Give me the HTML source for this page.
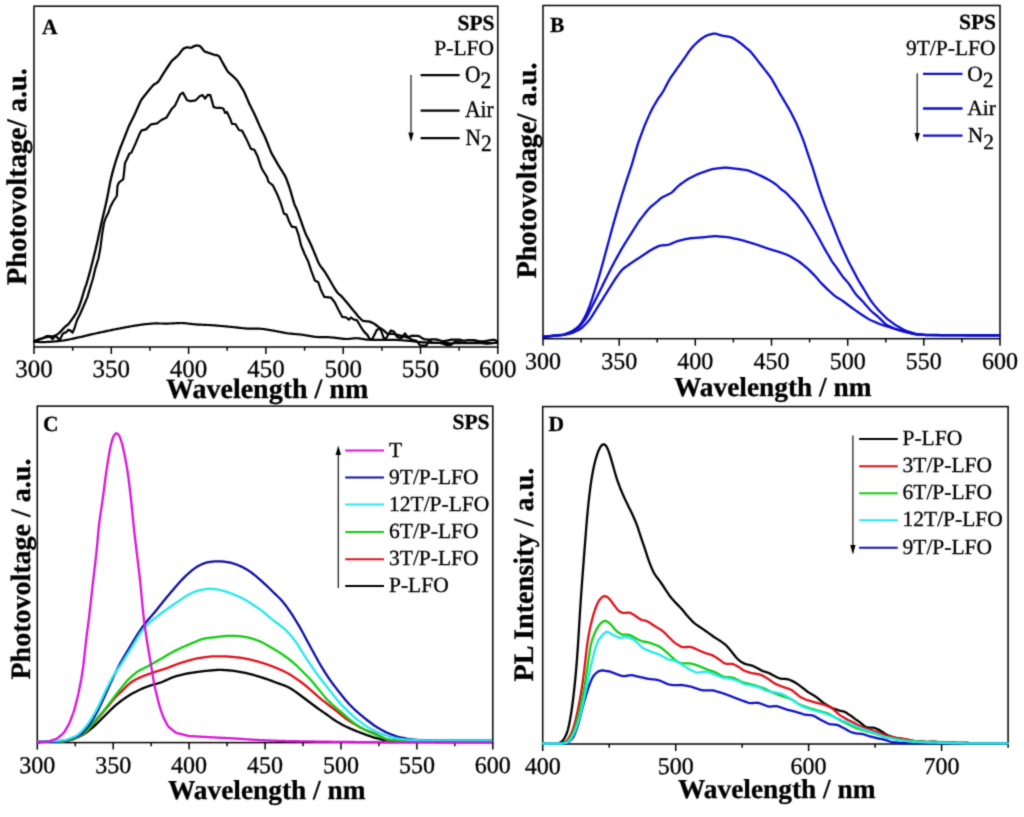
<!DOCTYPE html>
<html><head><meta charset="utf-8"><style>
html,body{margin:0;padding:0;background:#fff;}
svg{display:block;font-family:"Liberation Serif",serif;text-rendering:geometricPrecision;}
text{fill:#000;stroke:#000;stroke-width:0.3px;}
</style></head><body>
<svg width="1024" height="817" viewBox="0 0 1024 817">
<defs><filter id="soft" x="0" y="0" width="1024" height="817" filterUnits="userSpaceOnUse" color-interpolation-filters="sRGB"><feConvolveMatrix order="3" kernelMatrix="0.03 0.1 0.03 0.1 0.48 0.1 0.03 0.1 0.03" divisor="1" edgeMode="duplicate"/></filter></defs>
<rect width="1024" height="817" fill="#fff"/>
<g filter="url(#soft)">
<rect width="1024" height="817" fill="#fff"/>
<rect x="34" y="6.2" width="463.8" height="340.8" fill="none" stroke="#000" stroke-width="1.5"/>
<line x1="34.0" y1="347" x2="34.0" y2="354" stroke="#000" stroke-width="1.5"/>
<text x="34.0" y="377.3" font-size="25" text-anchor="middle" >300</text>
<line x1="72.7" y1="347" x2="72.7" y2="350.7" stroke="#000" stroke-width="1.5"/>
<line x1="111.3" y1="347" x2="111.3" y2="354" stroke="#000" stroke-width="1.5"/>
<text x="111.3" y="377.3" font-size="25" text-anchor="middle" >350</text>
<line x1="149.9" y1="347" x2="149.9" y2="350.7" stroke="#000" stroke-width="1.5"/>
<line x1="188.6" y1="347" x2="188.6" y2="354" stroke="#000" stroke-width="1.5"/>
<text x="188.6" y="377.3" font-size="25" text-anchor="middle" >400</text>
<line x1="227.2" y1="347" x2="227.2" y2="350.7" stroke="#000" stroke-width="1.5"/>
<line x1="265.9" y1="347" x2="265.9" y2="354" stroke="#000" stroke-width="1.5"/>
<text x="265.9" y="377.3" font-size="25" text-anchor="middle" >450</text>
<line x1="304.6" y1="347" x2="304.6" y2="350.7" stroke="#000" stroke-width="1.5"/>
<line x1="343.2" y1="347" x2="343.2" y2="354" stroke="#000" stroke-width="1.5"/>
<text x="343.2" y="377.3" font-size="25" text-anchor="middle" >500</text>
<line x1="381.9" y1="347" x2="381.9" y2="350.7" stroke="#000" stroke-width="1.5"/>
<line x1="420.5" y1="347" x2="420.5" y2="354" stroke="#000" stroke-width="1.5"/>
<text x="420.5" y="377.3" font-size="25" text-anchor="middle" >550</text>
<line x1="459.1" y1="347" x2="459.1" y2="350.7" stroke="#000" stroke-width="1.5"/>
<line x1="497.8" y1="347" x2="497.8" y2="354" stroke="#000" stroke-width="1.5"/>
<text x="497.8" y="377.3" font-size="25" text-anchor="middle" >600</text>
<text x="166" y="397.5" font-size="28" font-weight="bold" text-anchor="start" >Wavelength / nm</text>
<text transform="translate(25.5,285) rotate(-90)" font-size="28.4" font-weight="bold">Photovoltage/ a.u.</text>
<text x="42" y="33.5" font-size="21.5" font-weight="bold" text-anchor="start" >A</text>
<text x="494.5" y="30" font-size="21.5" font-weight="bold" text-anchor="end" >SPS</text>
<text x="494" y="55" font-size="21.5" text-anchor="end" >P-LFO</text>
<line x1="420.6" y1="75.2" x2="459.6" y2="75.2" stroke="#000" stroke-width="2.2"/>
<line x1="420.6" y1="110.6" x2="459.6" y2="110.6" stroke="#000" stroke-width="2.2"/>
<line x1="420.6" y1="138.1" x2="459.6" y2="138.1" stroke="#000" stroke-width="2.2"/>
<text transform="translate(465,81.6) scale(1,1.09)" font-size="21.5">O<tspan dy="5.96">2</tspan></text>
<text transform="translate(465,116.9) scale(1,1.09)" font-size="21.5">Air</text>
<text transform="translate(465.5,144.5) scale(1,1.09)" font-size="21.5">N<tspan dy="5.96">2</tspan></text>
<line x1="411" y1="75" x2="411" y2="132.5" stroke="#111" stroke-width="1.2"/><path d="M408.3,132.5 L413.7,132.5 L411,142 Z" fill="#000"/>
<path d="M34.3,341.10 L35.3,340.74 L36.3,340.29 L37.3,339.85 L38.3,339.46 L39.3,339.14 L40.3,338.83 L41.3,338.53 L42.3,338.23 L43.3,337.95 L44.3,337.67 L45.3,337.41 L46.3,337.22 L47.3,337.09 L48.3,336.97 L49.3,336.85 L50.3,336.75 L51.3,336.64 L52.3,336.50 L53.3,336.22 L54.3,335.84 L55.3,335.43 L56.3,334.97 L57.3,334.36 L58.3,333.64 L59.3,332.84 L60.3,331.89 L61.3,330.79 L62.3,329.68 L63.3,328.60 L64.3,327.55 L65.3,326.56 L66.3,325.71 L67.3,325.02 L68.3,324.23 L69.3,323.01 L70.3,321.63 L71.3,320.24 L72.3,318.85 L73.3,317.46 L74.3,316.03 L75.3,314.48 L76.3,312.80 L77.3,310.84 L78.3,308.53 L79.3,306.00 L80.3,303.18 L81.3,300.18 L82.3,296.92 L83.3,293.49 L84.3,290.16 L85.3,287.24 L86.3,284.33 L87.3,281.04 L88.3,277.57 L89.3,274.06 L90.3,270.42 L91.3,266.53 L92.3,262.56 L93.3,258.57 L94.3,254.55 L95.3,250.48 L96.3,246.32 L97.3,241.89 L98.3,237.31 L99.3,232.71 L100.3,228.13 L101.3,223.58 L102.3,219.16 L103.3,214.97 L104.3,210.80 L105.3,206.46 L106.3,201.93 L107.3,197.23 L108.3,192.12 L109.3,186.76 L110.3,181.63 L111.3,177.35 L112.3,173.40 L113.3,169.62 L114.3,166.12 L115.3,162.75 L116.3,159.56 L117.3,156.54 L118.3,153.57 L119.3,150.68 L120.3,148.00 L121.3,145.45 L122.3,142.91 L123.3,140.37 L124.3,137.81 L125.3,135.24 L126.3,132.67 L127.3,130.11 L128.3,127.59 L129.3,125.28 L130.3,123.20 L131.3,121.20 L132.3,119.20 L133.3,117.20 L134.3,115.17 L135.3,113.05 L136.3,110.80 L137.3,108.52 L138.3,106.24 L139.3,103.96 L140.3,101.77 L141.3,99.94 L142.3,98.54 L143.3,97.26 L144.3,96.00 L145.3,94.74 L146.3,93.47 L147.3,92.21 L148.3,90.99 L149.3,89.78 L150.3,88.58 L151.3,87.38 L152.3,86.18 L153.3,85.08 L154.3,84.26 L155.3,83.68 L156.3,83.17 L157.3,82.58 L158.3,81.63 L159.3,80.18 L160.3,78.57 L161.3,76.94 L162.3,75.32 L163.3,73.70 L164.3,72.09 L165.3,70.52 L166.3,69.00 L167.3,67.50 L168.3,66.00 L169.3,64.50 L170.3,63.00 L171.3,61.59 L172.3,60.44 L173.3,59.51 L174.3,58.64 L175.3,57.77 L176.3,56.90 L177.3,56.03 L178.3,55.08 L179.3,53.88 L180.3,52.53 L181.3,51.14 L182.3,49.83 L183.3,48.86 L184.3,48.31 L185.3,47.87 L186.3,47.48 L187.3,47.28 L188.3,47.41 L189.3,47.66 L190.3,47.80 L191.3,47.59 L192.3,47.13 L193.3,46.62 L194.3,46.12 L195.3,45.69 L196.3,45.51 L197.3,45.55 L198.3,45.65 L199.3,45.82 L200.3,46.38 L201.3,47.50 L202.3,48.80 L203.3,50.09 L204.3,51.18 L205.3,51.72 L206.3,52.07 L207.3,52.40 L208.3,52.73 L209.3,53.07 L210.3,53.41 L211.3,53.76 L212.3,54.10 L213.3,54.45 L214.3,54.77 L215.3,55.02 L216.3,55.22 L217.3,55.41 L218.3,55.75 L219.3,56.68 L220.3,58.31 L221.3,60.17 L222.3,62.02 L223.3,63.86 L224.3,65.65 L225.3,67.43 L226.3,69.21 L227.3,70.86 L228.3,72.13 L229.3,73.08 L230.3,73.95 L231.3,74.82 L232.3,75.69 L233.3,76.57 L234.3,77.51 L235.3,78.50 L236.3,79.53 L237.3,80.73 L238.3,82.24 L239.3,83.84 L240.3,85.45 L241.3,87.06 L242.3,88.67 L243.3,90.33 L244.3,92.23 L245.3,94.46 L246.3,96.81 L247.3,99.16 L248.3,101.50 L249.3,103.73 L250.3,105.77 L251.3,107.76 L252.3,109.74 L253.3,111.72 L254.3,113.77 L255.3,115.99 L256.3,118.27 L257.3,120.55 L258.3,122.83 L259.3,125.11 L260.3,127.34 L261.3,129.40 L262.3,131.40 L263.3,133.40 L264.3,135.48 L265.3,137.80 L266.3,140.28 L267.3,142.79 L268.3,145.30 L269.3,147.82 L270.3,150.33 L271.3,152.69 L272.3,154.64 L273.3,156.40 L274.3,158.14 L275.3,159.88 L276.3,161.62 L277.3,163.36 L278.3,165.06 L279.3,166.68 L280.3,168.26 L281.3,169.85 L282.3,171.44 L283.3,173.05 L284.3,174.66 L285.3,176.42 L286.3,178.69 L287.3,181.37 L288.3,184.16 L289.3,187.01 L290.3,190.10 L291.3,193.56 L292.3,197.14 L293.3,200.70 L294.3,203.94 L295.3,206.25 L296.3,208.31 L297.3,210.67 L298.3,213.41 L299.3,216.26 L300.3,219.11 L301.3,221.95 L302.3,224.75 L303.3,227.54 L304.3,230.32 L305.3,232.96 L306.3,235.16 L307.3,237.16 L308.3,239.14 L309.3,241.13 L310.3,243.17 L311.3,245.41 L312.3,247.77 L313.3,250.17 L314.3,252.57 L315.3,254.99 L316.3,257.43 L317.3,259.88 L318.3,262.28 L319.3,264.35 L320.3,265.86 L321.3,267.18 L322.3,268.48 L323.3,269.80 L324.3,271.17 L325.3,272.71 L326.3,274.31 L327.3,275.92 L328.3,277.54 L329.3,279.24 L330.3,280.99 L331.3,282.75 L332.3,284.51 L333.3,286.24 L334.3,287.88 L335.3,289.46 L336.3,291.02 L337.3,292.45 L338.3,293.53 L339.3,294.40 L340.3,295.24 L341.3,296.12 L342.3,297.15 L343.3,298.30 L344.3,299.48 L345.3,300.67 L346.3,301.86 L347.3,303.05 L348.3,304.26 L349.3,305.48 L350.3,306.71 L351.3,307.93 L352.3,309.15 L353.3,310.38 L354.3,311.61 L355.3,312.84 L356.3,314.08 L357.3,315.30 L358.3,316.46 L359.3,317.50 L360.3,318.50 L361.3,319.50 L362.3,320.39 L363.3,320.94 L364.3,321.12 L365.3,321.21 L366.3,321.30 L367.3,321.39 L368.3,321.47 L369.3,321.60 L370.3,321.89 L371.3,322.34 L372.3,322.82 L373.3,323.31 L374.3,323.85 L375.3,324.53 L376.3,325.28 L377.3,326.04 L378.3,326.81 L379.3,327.53 L380.3,328.18 L381.3,328.80 L382.3,329.41 L383.3,330.07 L384.3,330.85 L385.3,331.80 L386.3,332.79 L387.3,333.60 L388.3,333.87 L389.3,333.90 L390.3,333.90 L391.3,333.90 L392.3,333.90 L393.3,333.96 L394.3,334.16 L395.3,334.41 L396.3,334.67 L397.3,334.92 L398.3,335.18 L399.3,335.43 L400.3,335.69 L401.3,335.94 L402.3,336.20 L403.3,336.44 L404.3,336.68 L405.3,336.92 L406.3,337.16 L407.3,337.26 L408.3,337.03 L409.3,336.68 L410.3,336.32 L411.3,335.98 L412.3,335.78 L413.3,335.76 L414.3,335.80 L415.3,335.84 L416.3,335.88 L417.3,335.93 L418.3,336.00 L419.3,336.27 L420.3,336.88 L421.3,337.59 L422.3,338.29 L423.3,338.83 L424.3,339.10 L425.3,339.27 L426.3,339.44 L427.3,339.59 L428.3,339.65 L429.3,339.62 L430.3,339.57 L431.3,339.52 L432.3,339.47 L433.3,339.42 L434.3,339.37 L435.3,339.36 L436.3,339.50 L437.3,339.74 L438.3,339.99 L439.3,340.25 L440.3,340.51 L441.3,340.76 L442.3,341.01 L443.3,341.18 L444.3,341.10 L445.3,340.91 L446.3,340.71 L447.3,340.51 L448.3,340.31 L449.3,340.11 L450.3,339.90 L451.3,339.74 L452.3,339.68 L453.3,339.65 L454.3,339.62 L455.3,339.60 L456.3,339.57 L457.3,339.55 L458.3,339.54 L459.3,339.64 L460.3,339.88 L461.3,340.17 L462.3,340.46 L463.3,340.69 L464.3,340.71 L465.3,340.51 L466.3,340.28 L467.3,340.14 L468.3,340.10 L469.3,340.10 L470.3,340.10 L471.3,340.10 L472.3,340.10 L473.3,340.10 L474.3,340.14 L475.3,340.28 L476.3,340.51 L477.3,340.76 L478.3,341.02 L479.3,341.22 L480.3,341.29 L481.3,341.30 L482.3,341.30 L483.3,341.30 L484.3,341.27 L485.3,341.17 L486.3,340.97 L487.3,340.75 L488.3,340.54 L489.3,340.32 L490.3,340.13 L491.3,340.02 L492.3,339.93 L493.3,339.85 L494.3,339.83 L495.3,340.09 L496.3,340.77 L497.3,341.41" fill="none" stroke="#000" stroke-width="2.3" stroke-linejoin="round" stroke-linecap="round" />
<path d="M34.3,341.6 L37.8,340.0 L41.7,338.8 L45.6,336.9 L46.4,336.1 L50.3,336.1 L51.1,337.7 L52.7,339.2 L54.2,336.9 L56.2,336.5 L58.1,338.4 L59.7,340.0 L62.8,333.8 L64.4,332.6 L65.9,332.6 L68.3,329.8 L70.6,330.6 L72.6,332.6 L74.5,328.3 L76.9,320.5 L80.0,314.2 L83.1,307.2 L87.4,297.1 L90.1,287.9 L92.9,278.7 L95.6,267.6 L98.4,258.5 L100.2,249.3 L102.1,234.6 L103.9,223.5 L105.7,218.0 L108.5,212.5 L110.3,207.0 L113.1,201.5 L116.8,196.0 L117.5,186.0 L118.6,183.1 L120.4,181.3 L123.2,179.4 L124.1,172.1 L125.0,162.9 L126.9,159.2 L129.3,153.7 L131.4,152.6 L135.7,143.1 L140.0,132.9 L141.7,130.3 L146.0,129.4 L151.1,124.3 L157.1,123.4 L161.4,120.0 L166.6,117.4 L171.7,108.9 L175.1,105.4 L180.3,94.3 L182.9,92.6 L187.1,100.3 L190.6,101.1 L195.7,100.3 L200.0,96.0 L202.6,95.1 L205.1,98.6 L207.7,94.8 L210.3,95.1 L213.7,107.1 L217.1,108.0 L220.0,107.7 L223.4,108.6 L225.1,112.9 L226.9,112.0 L230.3,118.9 L232.0,124.0 L235.4,124.0 L238.9,130.0 L242.3,130.9 L246.6,139.4 L250.9,148.9 L254.3,149.7 L257.7,156.6 L261.1,166.9 L262.6,170.0 L266.9,176.9 L268.6,182.0 L272.9,185.4 L277.1,194.0 L280.6,202.6 L284.0,213.7 L286.6,214.6 L289.1,221.4 L291.7,226.6 L296.0,227.4 L298.6,235.1 L301.1,245.4 L304.6,254.0 L308.0,260.9 L311.4,271.1 L314.9,280.6 L318.3,282.3 L320.9,290.0 L324.3,296.9 L331.1,297.7 L334.7,302.3 L338.2,309.3 L342.3,316.9 L346.4,317.5 L348.8,319.8 L351.1,317.5 L353.4,319.3 L357.0,320.4 L360.5,326.3 L364.0,331.6 L367.5,335.1 L369.8,339.2 L372.2,339.2 L376.9,329.8 L380.4,328.6 L383.9,338.6 L386.3,338.0 L390.9,330.4 L393.9,331.6 L397.4,337.4 L401.5,338.0 L405.0,333.3 L407.9,337.4 L412.0,339.8 L416.7,340.9 L420.2,345.6 L426.1,345.6 L429.6,340.4 L431.7,342.8 L439.5,342.8 L445.8,344.8 L451.3,344.8 L455.2,341.3 L463.0,342.8 L470.8,342.8 L478.6,342.4 L486.4,343.6 L494.2,342.8 L497.3,342.8" fill="none" stroke="#000" stroke-width="2.2" stroke-linejoin="round" stroke-linecap="round" />
<path d="M34.3,341.67 L35.3,341.73 L36.3,341.80 L37.3,341.89 L38.3,341.97 L39.3,342.06 L40.3,342.12 L41.3,342.17 L42.3,342.18 L43.3,342.17 L44.3,342.13 L45.3,342.08 L46.3,342.02 L47.3,341.96 L48.3,341.90 L49.3,341.84 L50.3,341.78 L51.3,341.72 L52.3,341.65 L53.3,341.58 L54.3,341.49 L55.3,341.40 L56.3,341.30 L57.3,341.20 L58.3,341.10 L59.3,340.99 L60.3,340.88 L61.3,340.76 L62.3,340.63 L63.3,340.48 L64.3,340.34 L65.3,340.18 L66.3,340.02 L67.3,339.86 L68.3,339.68 L69.3,339.49 L70.3,339.28 L71.3,339.05 L72.3,338.82 L73.3,338.58 L74.3,338.34 L75.3,338.10 L76.3,337.87 L77.3,337.64 L78.3,337.42 L79.3,337.21 L80.3,337.00 L81.3,336.80 L82.3,336.59 L83.3,336.37 L84.3,336.15 L85.3,335.92 L86.3,335.68 L87.3,335.43 L88.3,335.18 L89.3,334.92 L90.3,334.67 L91.3,334.42 L92.3,334.18 L93.3,333.95 L94.3,333.72 L95.3,333.51 L96.3,333.29 L97.3,333.08 L98.3,332.86 L99.3,332.65 L100.3,332.44 L101.3,332.22 L102.3,332.01 L103.3,331.80 L104.3,331.59 L105.3,331.37 L106.3,331.16 L107.3,330.95 L108.3,330.73 L109.3,330.52 L110.3,330.31 L111.3,330.10 L112.3,329.89 L113.3,329.68 L114.3,329.48 L115.3,329.28 L116.3,329.09 L117.3,328.90 L118.3,328.71 L119.3,328.52 L120.3,328.33 L121.3,328.14 L122.3,327.95 L123.3,327.76 L124.3,327.57 L125.3,327.38 L126.3,327.19 L127.3,327.01 L128.3,326.82 L129.3,326.64 L130.3,326.46 L131.3,326.28 L132.3,326.11 L133.3,325.95 L134.3,325.78 L135.3,325.62 L136.3,325.46 L137.3,325.30 L138.3,325.13 L139.3,324.98 L140.3,324.82 L141.3,324.67 L142.3,324.54 L143.3,324.42 L144.3,324.31 L145.3,324.21 L146.3,324.12 L147.3,324.02 L148.3,323.93 L149.3,323.83 L150.3,323.74 L151.3,323.65 L152.3,323.58 L153.3,323.51 L154.3,323.47 L155.3,323.45 L156.3,323.45 L157.3,323.45 L158.3,323.46 L159.3,323.48 L160.3,323.49 L161.3,323.50 L162.3,323.52 L163.3,323.53 L164.3,323.55 L165.3,323.56 L166.3,323.56 L167.3,323.56 L168.3,323.54 L169.3,323.51 L170.3,323.48 L171.3,323.43 L172.3,323.38 L173.3,323.33 L174.3,323.28 L175.3,323.24 L176.3,323.19 L177.3,323.14 L178.3,323.09 L179.3,323.05 L180.3,323.02 L181.3,323.02 L182.3,323.04 L183.3,323.10 L184.3,323.18 L185.3,323.28 L186.3,323.39 L187.3,323.50 L188.3,323.61 L189.3,323.73 L190.3,323.84 L191.3,323.95 L192.3,324.07 L193.3,324.18 L194.3,324.28 L195.3,324.38 L196.3,324.46 L197.3,324.53 L198.3,324.58 L199.3,324.63 L200.3,324.68 L201.3,324.72 L202.3,324.76 L203.3,324.81 L204.3,324.85 L205.3,324.89 L206.3,324.94 L207.3,324.98 L208.3,325.02 L209.3,325.07 L210.3,325.11 L211.3,325.16 L212.3,325.23 L213.3,325.29 L214.3,325.37 L215.3,325.46 L216.3,325.55 L217.3,325.64 L218.3,325.73 L219.3,325.82 L220.3,325.91 L221.3,326.00 L222.3,326.09 L223.3,326.18 L224.3,326.27 L225.3,326.36 L226.3,326.45 L227.3,326.55 L228.3,326.64 L229.3,326.73 L230.3,326.83 L231.3,326.92 L232.3,327.03 L233.3,327.13 L234.3,327.24 L235.3,327.35 L236.3,327.46 L237.3,327.57 L238.3,327.68 L239.3,327.79 L240.3,327.90 L241.3,328.01 L242.3,328.12 L243.3,328.23 L244.3,328.33 L245.3,328.43 L246.3,328.52 L247.3,328.59 L248.3,328.65 L249.3,328.68 L250.3,328.69 L251.3,328.70 L252.3,328.70 L253.3,328.70 L254.3,328.70 L255.3,328.70 L256.3,328.70 L257.3,328.70 L258.3,328.71 L259.3,328.72 L260.3,328.75 L261.3,328.81 L262.3,328.89 L263.3,329.01 L264.3,329.16 L265.3,329.32 L266.3,329.48 L267.3,329.65 L268.3,329.82 L269.3,329.99 L270.3,330.16 L271.3,330.33 L272.3,330.51 L273.3,330.68 L274.3,330.85 L275.3,331.03 L276.3,331.21 L277.3,331.40 L278.3,331.59 L279.3,331.79 L280.3,331.98 L281.3,332.18 L282.3,332.38 L283.3,332.57 L284.3,332.77 L285.3,332.95 L286.3,333.13 L287.3,333.28 L288.3,333.42 L289.3,333.53 L290.3,333.63 L291.3,333.72 L292.3,333.81 L293.3,333.90 L294.3,333.98 L295.3,334.07 L296.3,334.15 L297.3,334.24 L298.3,334.33 L299.3,334.42 L300.3,334.53 L301.3,334.64 L302.3,334.78 L303.3,334.92 L304.3,335.08 L305.3,335.25 L306.3,335.42 L307.3,335.59 L308.3,335.76 L309.3,335.93 L310.3,336.10 L311.3,336.27 L312.3,336.43 L313.3,336.59 L314.3,336.73 L315.3,336.85 L316.3,336.93 L317.3,336.99 L318.3,337.03 L319.3,337.05 L320.3,337.07 L321.3,337.08 L322.3,337.10 L323.3,337.11 L324.3,337.12 L325.3,337.14 L326.3,337.16 L327.3,337.18 L328.3,337.21 L329.3,337.25 L330.3,337.32 L331.3,337.40 L332.3,337.49 L333.3,337.60 L334.3,337.71 L335.3,337.82 L336.3,337.93 L337.3,338.05 L338.3,338.17 L339.3,338.30 L340.3,338.42 L341.3,338.55 L342.3,338.67 L343.3,338.79 L344.3,338.90 L345.3,338.97 L346.3,339.01 L347.3,339.00 L348.3,338.94 L349.3,338.86 L350.3,338.75 L351.3,338.64 L352.3,338.53 L353.3,338.43 L354.3,338.33 L355.3,338.26 L356.3,338.22 L357.3,338.24 L358.3,338.31 L359.3,338.43 L360.3,338.58 L361.3,338.74 L362.3,338.91 L363.3,339.08 L364.3,339.24 L365.3,339.40 L366.3,339.54 L367.3,339.65 L368.3,339.72 L369.3,339.77 L370.3,339.79 L371.3,339.80 L372.3,339.80 L373.3,339.80 L374.3,339.80 L375.3,339.80 L376.3,339.80 L377.3,339.80 L378.3,339.80 L379.3,339.80 L380.3,339.80 L381.3,339.80 L382.3,339.81 L383.3,339.81 L384.3,339.82 L385.3,339.84 L386.3,339.85 L387.3,339.86 L388.3,339.87 L389.3,339.89 L390.3,339.90 L391.3,339.91 L392.3,339.93 L393.3,339.94 L394.3,339.95 L395.3,339.97 L396.3,339.99 L397.3,340.02 L398.3,340.07 L399.3,340.12 L400.3,340.18 L401.3,340.26 L402.3,340.33 L403.3,340.41 L404.3,340.48 L405.3,340.56 L406.3,340.64 L407.3,340.72 L408.3,340.81 L409.3,340.90 L410.3,341.00 L411.3,341.12 L412.3,341.24 L413.3,341.36 L414.3,341.49 L415.3,341.61 L416.3,341.74 L417.3,341.86 L418.3,341.97 L419.3,342.06 L420.3,342.14 L421.3,342.22 L422.3,342.28 L423.3,342.34 L424.3,342.40 L425.3,342.45 L426.3,342.51 L427.3,342.57 L428.3,342.62 L429.3,342.66 L430.3,342.71 L431.3,342.74 L432.3,342.78 L433.3,342.81 L434.3,342.84 L435.3,342.87 L436.3,342.90 L437.3,342.93 L438.3,342.96 L439.3,342.99 L440.3,343.01 L441.3,343.04 L442.3,343.07 L443.3,343.10 L444.3,343.13 L445.3,343.16 L446.3,343.19 L447.3,343.22 L448.3,343.24 L449.3,343.26 L450.3,343.27 L451.3,343.28 L452.3,343.28 L453.3,343.28 L454.3,343.27 L455.3,343.27 L456.3,343.26 L457.3,343.25 L458.3,343.25 L459.3,343.24 L460.3,343.23 L461.3,343.23 L462.3,343.22 L463.3,343.22 L464.3,343.21 L465.3,343.20 L466.3,343.20 L467.3,343.19 L468.3,343.18 L469.3,343.18 L470.3,343.17 L471.3,343.16 L472.3,343.16 L473.3,343.15 L474.3,343.14 L475.3,343.14 L476.3,343.13 L477.3,343.13 L478.3,343.12 L479.3,343.11 L480.3,343.11 L481.3,343.10 L482.3,343.09 L483.3,343.09 L484.3,343.08 L485.3,343.07 L486.3,343.07 L487.3,343.06 L488.3,343.06 L489.3,343.05 L490.3,343.04 L491.3,343.04 L492.3,343.03 L493.3,343.02 L494.3,343.02 L495.3,343.01 L496.3,343.01" fill="none" stroke="#000" stroke-width="2.2" stroke-linejoin="round" stroke-linecap="round" />
<rect x="543" y="5.5" width="457" height="333.2" fill="none" stroke="#000" stroke-width="1.5"/>
<line x1="543.0" y1="338.7" x2="543.0" y2="345.7" stroke="#000" stroke-width="1.5"/>
<text x="543.0" y="369" font-size="24" text-anchor="middle" >300</text>
<line x1="581.1" y1="338.7" x2="581.1" y2="342.4" stroke="#000" stroke-width="1.5"/>
<line x1="619.2" y1="338.7" x2="619.2" y2="345.7" stroke="#000" stroke-width="1.5"/>
<text x="619.2" y="369" font-size="24" text-anchor="middle" >350</text>
<line x1="657.2" y1="338.7" x2="657.2" y2="342.4" stroke="#000" stroke-width="1.5"/>
<line x1="695.3" y1="338.7" x2="695.3" y2="345.7" stroke="#000" stroke-width="1.5"/>
<text x="695.3" y="369" font-size="24" text-anchor="middle" >400</text>
<line x1="733.4" y1="338.7" x2="733.4" y2="342.4" stroke="#000" stroke-width="1.5"/>
<line x1="771.5" y1="338.7" x2="771.5" y2="345.7" stroke="#000" stroke-width="1.5"/>
<text x="771.5" y="369" font-size="24" text-anchor="middle" >450</text>
<line x1="809.6" y1="338.7" x2="809.6" y2="342.4" stroke="#000" stroke-width="1.5"/>
<line x1="847.7" y1="338.7" x2="847.7" y2="345.7" stroke="#000" stroke-width="1.5"/>
<text x="847.7" y="369" font-size="24" text-anchor="middle" >500</text>
<line x1="885.8" y1="338.7" x2="885.8" y2="342.4" stroke="#000" stroke-width="1.5"/>
<line x1="923.8" y1="338.7" x2="923.8" y2="345.7" stroke="#000" stroke-width="1.5"/>
<text x="923.8" y="369" font-size="24" text-anchor="middle" >550</text>
<line x1="961.9" y1="338.7" x2="961.9" y2="342.4" stroke="#000" stroke-width="1.5"/>
<line x1="1000.0" y1="338.7" x2="1000.0" y2="345.7" stroke="#000" stroke-width="1.5"/>
<text x="1000.0" y="369" font-size="24" text-anchor="middle" >600</text>
<text x="674" y="395.8" font-size="27.35" font-weight="bold" text-anchor="start" >Wavelength / nm</text>
<text transform="translate(535.7,278.6) rotate(-90)" font-size="28.3" font-weight="bold">Photovoltage/ a.u.</text>
<text x="550" y="32.3" font-size="21.5" font-weight="bold" text-anchor="start" >B</text>
<text x="996" y="29.3" font-size="21.5" font-weight="bold" text-anchor="end" >SPS</text>
<text x="995.5" y="55" font-size="21.5" text-anchor="end" >9T/P-LFO</text>
<line x1="923" y1="73.9" x2="962.5" y2="73.9" stroke="#0c0cd0" stroke-width="2.3"/>
<line x1="923" y1="108.5" x2="962.5" y2="108.5" stroke="#0c0cd0" stroke-width="2.3"/>
<line x1="923" y1="135.7" x2="962.5" y2="135.7" stroke="#0c0cd0" stroke-width="2.3"/>
<text x="967.3" y="80.6" font-size="21.5">O<tspan dy="6.5">2</tspan></text>
<text x="967.3" y="114.8" font-size="21.5" text-anchor="start" >Air</text>
<text x="967.8" y="142" font-size="21.5">N<tspan dy="6.5">2</tspan></text>
<line x1="917.2" y1="73.3" x2="917.2" y2="133.0" stroke="#111" stroke-width="1.2"/><path d="M914.5,133.0 L919.9000000000001,133.0 L917.2,142.5 Z" fill="#000"/>
<path d="M543.5,336.73 L544.5,336.66 L545.5,336.56 L546.5,336.44 L547.5,336.33 L548.5,336.21 L549.5,336.09 L550.5,335.97 L551.5,335.85 L552.5,335.73 L553.5,335.62 L554.5,335.50 L555.5,335.39 L556.5,335.29 L557.5,335.20 L558.5,335.10 L559.5,335.01 L560.5,334.91 L561.5,334.81 L562.5,334.68 L563.5,334.50 L564.5,334.24 L565.5,333.90 L566.5,333.52 L567.5,333.12 L568.5,332.71 L569.5,332.29 L570.5,331.86 L571.5,331.39 L572.5,330.85 L573.5,330.22 L574.5,329.53 L575.5,328.80 L576.5,328.05 L577.5,327.26 L578.5,326.37 L579.5,325.31 L580.5,324.05 L581.5,322.63 L582.5,321.11 L583.5,319.46 L584.5,317.64 L585.5,315.61 L586.5,313.41 L587.5,311.10 L588.5,308.70 L589.5,306.15 L590.5,303.41 L591.5,300.51 L592.5,297.52 L593.5,294.47 L594.5,291.36 L595.5,288.17 L596.5,284.92 L597.5,281.62 L598.5,278.27 L599.5,274.86 L600.5,271.35 L601.5,267.76 L602.5,264.10 L603.5,260.43 L604.5,256.74 L605.5,253.04 L606.5,249.34 L607.5,245.64 L608.5,241.94 L609.5,238.25 L610.5,234.58 L611.5,230.92 L612.5,227.28 L613.5,223.67 L614.5,220.09 L615.5,216.57 L616.5,213.13 L617.5,209.74 L618.5,206.38 L619.5,203.05 L620.5,199.75 L621.5,196.49 L622.5,193.26 L623.5,190.05 L624.5,186.86 L625.5,183.72 L626.5,180.64 L627.5,177.64 L628.5,174.67 L629.5,171.71 L630.5,168.71 L631.5,165.59 L632.5,162.32 L633.5,158.90 L634.5,155.38 L635.5,151.86 L636.5,148.43 L637.5,145.18 L638.5,142.15 L639.5,139.29 L640.5,136.52 L641.5,133.78 L642.5,131.07 L643.5,128.43 L644.5,125.89 L645.5,123.47 L646.5,121.14 L647.5,118.86 L648.5,116.60 L649.5,114.38 L650.5,112.25 L651.5,110.23 L652.5,108.34 L653.5,106.55 L654.5,104.79 L655.5,103.06 L656.5,101.36 L657.5,99.73 L658.5,98.19 L659.5,96.75 L660.5,95.36 L661.5,93.96 L662.5,92.46 L663.5,90.81 L664.5,89.00 L665.5,87.08 L666.5,85.11 L667.5,83.17 L668.5,81.30 L669.5,79.57 L670.5,77.97 L671.5,76.47 L672.5,75.02 L673.5,73.58 L674.5,72.15 L675.5,70.72 L676.5,69.30 L677.5,67.89 L678.5,66.49 L679.5,65.11 L680.5,63.72 L681.5,62.34 L682.5,60.94 L683.5,59.52 L684.5,58.07 L685.5,56.60 L686.5,55.12 L687.5,53.63 L688.5,52.16 L689.5,50.73 L690.5,49.41 L691.5,48.21 L692.5,47.11 L693.5,46.07 L694.5,45.06 L695.5,44.04 L696.5,43.04 L697.5,42.06 L698.5,41.12 L699.5,40.26 L700.5,39.47 L701.5,38.74 L702.5,38.04 L703.5,37.35 L704.5,36.70 L705.5,36.11 L706.5,35.62 L707.5,35.24 L708.5,34.92 L709.5,34.63 L710.5,34.35 L711.5,34.07 L712.5,33.82 L713.5,33.63 L714.5,33.57 L715.5,33.67 L716.5,33.91 L717.5,34.23 L718.5,34.57 L719.5,34.91 L720.5,35.23 L721.5,35.50 L722.5,35.71 L723.5,35.89 L724.5,36.04 L725.5,36.20 L726.5,36.37 L727.5,36.54 L728.5,36.71 L729.5,36.90 L730.5,37.13 L731.5,37.44 L732.5,37.88 L733.5,38.43 L734.5,39.06 L735.5,39.72 L736.5,40.39 L737.5,41.06 L738.5,41.74 L739.5,42.44 L740.5,43.17 L741.5,43.95 L742.5,44.76 L743.5,45.59 L744.5,46.42 L745.5,47.26 L746.5,48.09 L747.5,48.93 L748.5,49.78 L749.5,50.68 L750.5,51.66 L751.5,52.76 L752.5,53.96 L753.5,55.22 L754.5,56.51 L755.5,57.80 L756.5,59.09 L757.5,60.38 L758.5,61.67 L759.5,62.95 L760.5,64.24 L761.5,65.52 L762.5,66.81 L763.5,68.09 L764.5,69.37 L765.5,70.66 L766.5,71.94 L767.5,73.22 L768.5,74.52 L769.5,75.83 L770.5,77.22 L771.5,78.72 L772.5,80.36 L773.5,82.09 L774.5,83.87 L775.5,85.67 L776.5,87.47 L777.5,89.27 L778.5,91.06 L779.5,92.83 L780.5,94.56 L781.5,96.27 L782.5,97.96 L783.5,99.63 L784.5,101.31 L785.5,102.99 L786.5,104.67 L787.5,106.35 L788.5,108.05 L789.5,109.80 L790.5,111.63 L791.5,113.53 L792.5,115.48 L793.5,117.46 L794.5,119.45 L795.5,121.49 L796.5,123.61 L797.5,125.85 L798.5,128.21 L799.5,130.65 L800.5,133.13 L801.5,135.64 L802.5,138.20 L803.5,140.87 L804.5,143.68 L805.5,146.62 L806.5,149.62 L807.5,152.62 L808.5,155.58 L809.5,158.51 L810.5,161.39 L811.5,164.26 L812.5,167.21 L813.5,170.31 L814.5,173.56 L815.5,176.87 L816.5,180.18 L817.5,183.42 L818.5,186.55 L819.5,189.59 L820.5,192.57 L821.5,195.51 L822.5,198.40 L823.5,201.21 L824.5,203.96 L825.5,206.67 L826.5,209.33 L827.5,211.93 L828.5,214.45 L829.5,216.89 L830.5,219.28 L831.5,221.67 L832.5,224.10 L833.5,226.60 L834.5,229.17 L835.5,231.77 L836.5,234.35 L837.5,236.87 L838.5,239.32 L839.5,241.69 L840.5,243.98 L841.5,246.22 L842.5,248.44 L843.5,250.66 L844.5,252.88 L845.5,255.09 L846.5,257.27 L847.5,259.38 L848.5,261.42 L849.5,263.40 L850.5,265.34 L851.5,267.24 L852.5,269.11 L853.5,270.97 L854.5,272.85 L855.5,274.76 L856.5,276.70 L857.5,278.62 L858.5,280.47 L859.5,282.19 L860.5,283.81 L861.5,285.37 L862.5,286.94 L863.5,288.57 L864.5,290.26 L865.5,291.98 L866.5,293.69 L867.5,295.35 L868.5,296.95 L869.5,298.51 L870.5,300.03 L871.5,301.49 L872.5,302.87 L873.5,304.16 L874.5,305.40 L875.5,306.62 L876.5,307.82 L877.5,309.00 L878.5,310.14 L879.5,311.23 L880.5,312.28 L881.5,313.30 L882.5,314.30 L883.5,315.30 L884.5,316.29 L885.5,317.27 L886.5,318.20 L887.5,319.07 L888.5,319.88 L889.5,320.65 L890.5,321.40 L891.5,322.15 L892.5,322.89 L893.5,323.62 L894.5,324.32 L895.5,324.99 L896.5,325.62 L897.5,326.21 L898.5,326.79 L899.5,327.36 L900.5,327.94 L901.5,328.51 L902.5,329.07 L903.5,329.61 L904.5,330.11 L905.5,330.54 L906.5,330.90 L907.5,331.24 L908.5,331.55 L909.5,331.87 L910.5,332.18 L911.5,332.49 L912.5,332.80 L913.5,333.11 L914.5,333.39 L915.5,333.65 L916.5,333.85 L917.5,334.02 L918.5,334.16 L919.5,334.29 L920.5,334.42 L921.5,334.54 L922.5,334.67 L923.5,334.80 L924.5,334.92 L925.5,335.03 L926.5,335.12 L927.5,335.17 L928.5,335.19 L929.5,335.20 L930.5,335.20 L931.5,335.20 L932.5,335.20 L933.5,335.20 L934.5,335.20 L935.5,335.20 L936.5,335.20 L937.5,335.20 L938.5,335.20 L939.5,335.20 L940.5,335.20 L941.5,335.20 L942.5,335.20 L943.5,335.20 L944.5,335.20 L945.5,335.20 L946.5,335.20 L947.5,335.20 L948.5,335.20 L949.5,335.20 L950.5,335.20 L951.5,335.20 L952.5,335.20 L953.5,335.20 L954.5,335.20 L955.5,335.20 L956.5,335.20 L957.5,335.20 L958.5,335.20 L959.5,335.20 L960.5,335.20 L961.5,335.21 L962.5,335.21 L963.5,335.22 L964.5,335.22 L965.5,335.23 L966.5,335.23 L967.5,335.24 L968.5,335.24 L969.5,335.25 L970.5,335.25 L971.5,335.26 L972.5,335.26 L973.5,335.27 L974.5,335.27 L975.5,335.28 L976.5,335.28 L977.5,335.29 L978.5,335.29 L979.5,335.30 L980.5,335.30 L981.5,335.31 L982.5,335.31 L983.5,335.32 L984.5,335.32 L985.5,335.33 L986.5,335.33 L987.5,335.34 L988.5,335.34 L989.5,335.35 L990.5,335.35 L991.5,335.36 L992.5,335.36 L993.5,335.37 L994.5,335.37 L995.5,335.38 L996.5,335.38 L997.5,335.39 L998.5,335.39 L999.5,335.39" fill="none" stroke="#0c0cd0" stroke-width="2.3" stroke-linejoin="round" stroke-linecap="round" />
<path d="M543.5,336.74 L544.5,336.68 L545.5,336.60 L546.5,336.50 L547.5,336.41 L548.5,336.31 L549.5,336.21 L550.5,336.11 L551.5,336.02 L552.5,335.92 L553.5,335.82 L554.5,335.72 L555.5,335.62 L556.5,335.53 L557.5,335.43 L558.5,335.33 L559.5,335.23 L560.5,335.13 L561.5,335.03 L562.5,334.90 L563.5,334.74 L564.5,334.52 L565.5,334.25 L566.5,333.94 L567.5,333.61 L568.5,333.28 L569.5,332.95 L570.5,332.60 L571.5,332.21 L572.5,331.73 L573.5,331.16 L574.5,330.52 L575.5,329.84 L576.5,329.14 L577.5,328.40 L578.5,327.58 L579.5,326.63 L580.5,325.52 L581.5,324.29 L582.5,323.00 L583.5,321.68 L584.5,320.32 L585.5,318.84 L586.5,317.22 L587.5,315.42 L588.5,313.51 L589.5,311.54 L590.5,309.56 L591.5,307.58 L592.5,305.59 L593.5,303.61 L594.5,301.62 L595.5,299.64 L596.5,297.65 L597.5,295.66 L598.5,293.67 L599.5,291.68 L600.5,289.67 L601.5,287.65 L602.5,285.62 L603.5,283.59 L604.5,281.57 L605.5,279.54 L606.5,277.53 L607.5,275.52 L608.5,273.53 L609.5,271.54 L610.5,269.56 L611.5,267.58 L612.5,265.62 L613.5,263.69 L614.5,261.81 L615.5,259.97 L616.5,258.15 L617.5,256.33 L618.5,254.52 L619.5,252.72 L620.5,250.92 L621.5,249.16 L622.5,247.46 L623.5,245.80 L624.5,244.18 L625.5,242.59 L626.5,240.99 L627.5,239.40 L628.5,237.80 L629.5,236.21 L630.5,234.62 L631.5,233.03 L632.5,231.43 L633.5,229.84 L634.5,228.25 L635.5,226.65 L636.5,225.07 L637.5,223.50 L638.5,221.97 L639.5,220.52 L640.5,219.16 L641.5,217.86 L642.5,216.60 L643.5,215.34 L644.5,214.09 L645.5,212.84 L646.5,211.59 L647.5,210.35 L648.5,209.17 L649.5,208.07 L650.5,207.09 L651.5,206.21 L652.5,205.39 L653.5,204.58 L654.5,203.78 L655.5,202.97 L656.5,202.13 L657.5,201.24 L658.5,200.30 L659.5,199.36 L660.5,198.54 L661.5,197.85 L662.5,197.28 L663.5,196.77 L664.5,196.27 L665.5,195.77 L666.5,195.28 L667.5,194.78 L668.5,194.28 L669.5,193.78 L670.5,193.24 L671.5,192.62 L672.5,191.86 L673.5,190.94 L674.5,189.89 L675.5,188.80 L676.5,187.73 L677.5,186.73 L678.5,185.83 L679.5,185.02 L680.5,184.28 L681.5,183.55 L682.5,182.84 L683.5,182.12 L684.5,181.41 L685.5,180.71 L686.5,180.03 L687.5,179.41 L688.5,178.84 L689.5,178.31 L690.5,177.80 L691.5,177.30 L692.5,176.80 L693.5,176.30 L694.5,175.80 L695.5,175.30 L696.5,174.81 L697.5,174.34 L698.5,173.91 L699.5,173.51 L700.5,173.14 L701.5,172.78 L702.5,172.43 L703.5,172.08 L704.5,171.73 L705.5,171.38 L706.5,171.03 L707.5,170.68 L708.5,170.33 L709.5,169.98 L710.5,169.66 L711.5,169.37 L712.5,169.13 L713.5,168.95 L714.5,168.81 L715.5,168.69 L716.5,168.57 L717.5,168.45 L718.5,168.34 L719.5,168.22 L720.5,168.10 L721.5,167.98 L722.5,167.87 L723.5,167.76 L724.5,167.67 L725.5,167.64 L726.5,167.66 L727.5,167.74 L728.5,167.84 L729.5,167.96 L730.5,168.07 L731.5,168.19 L732.5,168.31 L733.5,168.42 L734.5,168.54 L735.5,168.66 L736.5,168.77 L737.5,168.89 L738.5,169.01 L739.5,169.14 L740.5,169.26 L741.5,169.40 L742.5,169.53 L743.5,169.66 L744.5,169.80 L745.5,169.95 L746.5,170.12 L747.5,170.36 L748.5,170.66 L749.5,171.02 L750.5,171.41 L751.5,171.82 L752.5,172.22 L753.5,172.62 L754.5,173.03 L755.5,173.43 L756.5,173.84 L757.5,174.26 L758.5,174.70 L759.5,175.17 L760.5,175.65 L761.5,176.15 L762.5,176.65 L763.5,177.15 L764.5,177.65 L765.5,178.15 L766.5,178.65 L767.5,179.16 L768.5,179.69 L769.5,180.25 L770.5,180.86 L771.5,181.49 L772.5,182.14 L773.5,182.80 L774.5,183.46 L775.5,184.15 L776.5,184.89 L777.5,185.75 L778.5,186.73 L779.5,187.75 L780.5,188.69 L781.5,189.50 L782.5,190.22 L783.5,190.91 L784.5,191.62 L785.5,192.40 L786.5,193.30 L787.5,194.29 L788.5,195.34 L789.5,196.42 L790.5,197.50 L791.5,198.58 L792.5,199.63 L793.5,200.65 L794.5,201.65 L795.5,202.69 L796.5,203.82 L797.5,205.04 L798.5,206.31 L799.5,207.59 L800.5,208.88 L801.5,210.18 L802.5,211.50 L803.5,212.87 L804.5,214.32 L805.5,215.83 L806.5,217.39 L807.5,218.98 L808.5,220.57 L809.5,222.16 L810.5,223.76 L811.5,225.38 L812.5,227.03 L813.5,228.73 L814.5,230.46 L815.5,232.22 L816.5,233.98 L817.5,235.76 L818.5,237.54 L819.5,239.36 L820.5,241.21 L821.5,243.08 L822.5,244.96 L823.5,246.82 L824.5,248.64 L825.5,250.38 L826.5,252.06 L827.5,253.72 L828.5,255.40 L829.5,257.12 L830.5,258.87 L831.5,260.56 L832.5,262.12 L833.5,263.52 L834.5,264.84 L835.5,266.15 L836.5,267.53 L837.5,268.99 L838.5,270.50 L839.5,272.01 L840.5,273.47 L841.5,274.89 L842.5,276.24 L843.5,277.50 L844.5,278.67 L845.5,279.79 L846.5,280.92 L847.5,282.13 L848.5,283.42 L849.5,284.79 L850.5,286.23 L851.5,287.73 L852.5,289.27 L853.5,290.83 L854.5,292.34 L855.5,293.74 L856.5,295.00 L857.5,296.11 L858.5,297.15 L859.5,298.14 L860.5,299.14 L861.5,300.16 L862.5,301.22 L863.5,302.32 L864.5,303.47 L865.5,304.63 L866.5,305.80 L867.5,306.97 L868.5,308.12 L869.5,309.25 L870.5,310.30 L871.5,311.26 L872.5,312.15 L873.5,313.00 L874.5,313.83 L875.5,314.66 L876.5,315.50 L877.5,316.35 L878.5,317.24 L879.5,318.17 L880.5,319.14 L881.5,320.14 L882.5,321.15 L883.5,322.14 L884.5,323.08 L885.5,323.92 L886.5,324.62 L887.5,325.21 L888.5,325.74 L889.5,326.25 L890.5,326.75 L891.5,327.24 L892.5,327.72 L893.5,328.16 L894.5,328.56 L895.5,328.91 L896.5,329.23 L897.5,329.54 L898.5,329.85 L899.5,330.16 L900.5,330.47 L901.5,330.78 L902.5,331.09 L903.5,331.39 L904.5,331.68 L905.5,331.95 L906.5,332.21 L907.5,332.47 L908.5,332.72 L909.5,332.96 L910.5,333.21 L911.5,333.46 L912.5,333.71 L913.5,333.95 L914.5,334.17 L915.5,334.35 L916.5,334.48 L917.5,334.57 L918.5,334.63 L919.5,334.69 L920.5,334.73 L921.5,334.78 L922.5,334.83 L923.5,334.88 L924.5,334.93 L925.5,334.98 L926.5,335.03 L927.5,335.08 L928.5,335.12 L929.5,335.16 L930.5,335.18 L931.5,335.20 L932.5,335.21 L933.5,335.21 L934.5,335.21 L935.5,335.22 L936.5,335.22 L937.5,335.22 L938.5,335.22 L939.5,335.23 L940.5,335.23 L941.5,335.23 L942.5,335.24 L943.5,335.24 L944.5,335.24 L945.5,335.24 L946.5,335.25 L947.5,335.25 L948.5,335.25 L949.5,335.26 L950.5,335.26 L951.5,335.26 L952.5,335.26 L953.5,335.27 L954.5,335.27 L955.5,335.27 L956.5,335.28 L957.5,335.28 L958.5,335.28 L959.5,335.28 L960.5,335.29 L961.5,335.29 L962.5,335.29 L963.5,335.30 L964.5,335.30 L965.5,335.30 L966.5,335.30 L967.5,335.31 L968.5,335.31 L969.5,335.31 L970.5,335.32 L971.5,335.32 L972.5,335.32 L973.5,335.32 L974.5,335.33 L975.5,335.33 L976.5,335.33 L977.5,335.34 L978.5,335.34 L979.5,335.34 L980.5,335.34 L981.5,335.35 L982.5,335.35 L983.5,335.35 L984.5,335.36 L985.5,335.36 L986.5,335.36 L987.5,335.36 L988.5,335.37 L989.5,335.37 L990.5,335.37 L991.5,335.38 L992.5,335.38 L993.5,335.38 L994.5,335.38 L995.5,335.39 L996.5,335.39 L997.5,335.39 L998.5,335.40 L999.5,335.40" fill="none" stroke="#0c0cd0" stroke-width="2.3" stroke-linejoin="round" stroke-linecap="round" />
<path d="M543.5,336.75 L544.5,336.69 L545.5,336.62 L546.5,336.53 L547.5,336.45 L548.5,336.36 L549.5,336.27 L550.5,336.18 L551.5,336.09 L552.5,336.01 L553.5,335.92 L554.5,335.83 L555.5,335.74 L556.5,335.65 L557.5,335.56 L558.5,335.48 L559.5,335.39 L560.5,335.30 L561.5,335.21 L562.5,335.10 L563.5,334.97 L564.5,334.81 L565.5,334.61 L566.5,334.38 L567.5,334.15 L568.5,333.92 L569.5,333.68 L570.5,333.43 L571.5,333.15 L572.5,332.82 L573.5,332.43 L574.5,331.99 L575.5,331.52 L576.5,331.04 L577.5,330.57 L578.5,330.07 L579.5,329.54 L580.5,328.92 L581.5,328.16 L582.5,327.27 L583.5,326.29 L584.5,325.27 L585.5,324.24 L586.5,323.20 L587.5,322.14 L588.5,321.03 L589.5,319.79 L590.5,318.41 L591.5,316.90 L592.5,315.32 L593.5,313.71 L594.5,312.10 L595.5,310.49 L596.5,308.88 L597.5,307.27 L598.5,305.67 L599.5,304.07 L600.5,302.48 L601.5,300.88 L602.5,299.29 L603.5,297.70 L604.5,296.10 L605.5,294.51 L606.5,292.92 L607.5,291.33 L608.5,289.73 L609.5,288.14 L610.5,286.55 L611.5,284.95 L612.5,283.36 L613.5,281.78 L614.5,280.23 L615.5,278.72 L616.5,277.26 L617.5,275.84 L618.5,274.43 L619.5,273.05 L620.5,271.72 L621.5,270.49 L622.5,269.42 L623.5,268.53 L624.5,267.75 L625.5,267.03 L626.5,266.33 L627.5,265.63 L628.5,264.94 L629.5,264.24 L630.5,263.56 L631.5,262.88 L632.5,262.21 L633.5,261.55 L634.5,260.89 L635.5,260.23 L636.5,259.57 L637.5,258.91 L638.5,258.25 L639.5,257.59 L640.5,256.93 L641.5,256.26 L642.5,255.59 L643.5,254.92 L644.5,254.26 L645.5,253.59 L646.5,252.92 L647.5,252.25 L648.5,251.58 L649.5,250.92 L650.5,250.28 L651.5,249.69 L652.5,249.13 L653.5,248.61 L654.5,248.10 L655.5,247.60 L656.5,247.10 L657.5,246.62 L658.5,246.17 L659.5,245.79 L660.5,245.53 L661.5,245.38 L662.5,245.29 L663.5,245.23 L664.5,245.18 L665.5,245.12 L666.5,245.04 L667.5,244.91 L668.5,244.70 L669.5,244.38 L670.5,244.00 L671.5,243.59 L672.5,243.16 L673.5,242.74 L674.5,242.31 L675.5,241.89 L676.5,241.49 L677.5,241.12 L678.5,240.81 L679.5,240.55 L680.5,240.31 L681.5,240.09 L682.5,239.87 L683.5,239.65 L684.5,239.43 L685.5,239.21 L686.5,238.99 L687.5,238.78 L688.5,238.57 L689.5,238.39 L690.5,238.24 L691.5,238.13 L692.5,238.05 L693.5,237.98 L694.5,237.92 L695.5,237.85 L696.5,237.79 L697.5,237.72 L698.5,237.66 L699.5,237.59 L700.5,237.52 L701.5,237.43 L702.5,237.34 L703.5,237.24 L704.5,237.14 L705.5,237.04 L706.5,236.94 L707.5,236.84 L708.5,236.73 L709.5,236.63 L710.5,236.53 L711.5,236.43 L712.5,236.33 L713.5,236.26 L714.5,236.21 L715.5,236.22 L716.5,236.26 L717.5,236.33 L718.5,236.41 L719.5,236.49 L720.5,236.57 L721.5,236.65 L722.5,236.73 L723.5,236.81 L724.5,236.89 L725.5,236.97 L726.5,237.06 L727.5,237.16 L728.5,237.30 L729.5,237.47 L730.5,237.67 L731.5,237.89 L732.5,238.10 L733.5,238.33 L734.5,238.55 L735.5,238.77 L736.5,238.99 L737.5,239.21 L738.5,239.43 L739.5,239.65 L740.5,239.88 L741.5,240.12 L742.5,240.38 L743.5,240.66 L744.5,240.95 L745.5,241.25 L746.5,241.55 L747.5,241.85 L748.5,242.15 L749.5,242.44 L750.5,242.74 L751.5,243.04 L752.5,243.34 L753.5,243.64 L754.5,243.95 L755.5,244.27 L756.5,244.59 L757.5,244.94 L758.5,245.28 L759.5,245.63 L760.5,245.98 L761.5,246.33 L762.5,246.68 L763.5,247.03 L764.5,247.38 L765.5,247.73 L766.5,248.08 L767.5,248.43 L768.5,248.77 L769.5,249.10 L770.5,249.41 L771.5,249.71 L772.5,250.01 L773.5,250.30 L774.5,250.60 L775.5,250.89 L776.5,251.18 L777.5,251.48 L778.5,251.78 L779.5,252.09 L780.5,252.41 L781.5,252.76 L782.5,253.13 L783.5,253.50 L784.5,253.87 L785.5,254.24 L786.5,254.63 L787.5,255.03 L788.5,255.48 L789.5,255.98 L790.5,256.52 L791.5,257.09 L792.5,257.67 L793.5,258.25 L794.5,258.84 L795.5,259.42 L796.5,260.01 L797.5,260.62 L798.5,261.27 L799.5,261.97 L800.5,262.73 L801.5,263.52 L802.5,264.32 L803.5,265.13 L804.5,265.95 L805.5,266.77 L806.5,267.62 L807.5,268.50 L808.5,269.44 L809.5,270.41 L810.5,271.40 L811.5,272.40 L812.5,273.40 L813.5,274.41 L814.5,275.43 L815.5,276.50 L816.5,277.62 L817.5,278.80 L818.5,280.00 L819.5,281.18 L820.5,282.30 L821.5,283.37 L822.5,284.39 L823.5,285.40 L824.5,286.40 L825.5,287.39 L826.5,288.36 L827.5,289.31 L828.5,290.25 L829.5,291.17 L830.5,292.08 L831.5,293.00 L832.5,293.90 L833.5,294.79 L834.5,295.62 L835.5,296.37 L836.5,297.05 L837.5,297.68 L838.5,298.28 L839.5,298.88 L840.5,299.49 L841.5,300.13 L842.5,300.81 L843.5,301.53 L844.5,302.27 L845.5,303.02 L846.5,303.78 L847.5,304.53 L848.5,305.29 L849.5,306.03 L850.5,306.77 L851.5,307.50 L852.5,308.22 L853.5,308.93 L854.5,309.65 L855.5,310.37 L856.5,311.08 L857.5,311.79 L858.5,312.50 L859.5,313.19 L860.5,313.86 L861.5,314.52 L862.5,315.17 L863.5,315.82 L864.5,316.46 L865.5,317.11 L866.5,317.75 L867.5,318.38 L868.5,318.98 L869.5,319.53 L870.5,320.03 L871.5,320.50 L872.5,320.94 L873.5,321.38 L874.5,321.81 L875.5,322.25 L876.5,322.68 L877.5,323.12 L878.5,323.55 L879.5,323.95 L880.5,324.34 L881.5,324.69 L882.5,325.01 L883.5,325.33 L884.5,325.64 L885.5,325.95 L886.5,326.27 L887.5,326.58 L888.5,326.89 L889.5,327.20 L890.5,327.51 L891.5,327.82 L892.5,328.14 L893.5,328.45 L894.5,328.76 L895.5,329.07 L896.5,329.38 L897.5,329.70 L898.5,330.01 L899.5,330.32 L900.5,330.62 L901.5,330.92 L902.5,331.20 L903.5,331.46 L904.5,331.71 L905.5,331.96 L906.5,332.20 L907.5,332.45 L908.5,332.70 L909.5,332.94 L910.5,333.18 L911.5,333.41 L912.5,333.62 L913.5,333.79 L914.5,333.93 L915.5,334.05 L916.5,334.15 L917.5,334.25 L918.5,334.36 L919.5,334.46 L920.5,334.56 L921.5,334.65 L922.5,334.75 L923.5,334.82 L924.5,334.87 L925.5,334.90 L926.5,334.92 L927.5,334.93 L928.5,334.94 L929.5,334.95 L930.5,334.95 L931.5,334.96 L932.5,334.97 L933.5,334.98 L934.5,334.99 L935.5,335.00 L936.5,335.00 L937.5,335.01 L938.5,335.02 L939.5,335.03 L940.5,335.04 L941.5,335.05 L942.5,335.05 L943.5,335.06 L944.5,335.07 L945.5,335.08 L946.5,335.09 L947.5,335.10 L948.5,335.10 L949.5,335.11 L950.5,335.12 L951.5,335.13 L952.5,335.14 L953.5,335.15 L954.5,335.15 L955.5,335.16 L956.5,335.17 L957.5,335.18 L958.5,335.19 L959.5,335.19 L960.5,335.20 L961.5,335.21 L962.5,335.21 L963.5,335.22 L964.5,335.22 L965.5,335.23 L966.5,335.23 L967.5,335.24 L968.5,335.24 L969.5,335.25 L970.5,335.25 L971.5,335.26 L972.5,335.26 L973.5,335.27 L974.5,335.27 L975.5,335.28 L976.5,335.28 L977.5,335.29 L978.5,335.29 L979.5,335.30 L980.5,335.30 L981.5,335.31 L982.5,335.31 L983.5,335.32 L984.5,335.32 L985.5,335.33 L986.5,335.33 L987.5,335.34 L988.5,335.34 L989.5,335.35 L990.5,335.35 L991.5,335.36 L992.5,335.36 L993.5,335.37 L994.5,335.37 L995.5,335.38 L996.5,335.38 L997.5,335.39 L998.5,335.39 L999.5,335.39" fill="none" stroke="#0c0cd0" stroke-width="2.3" stroke-linejoin="round" stroke-linecap="round" />
<rect x="37.3" y="406.1" width="455.5" height="336.5" fill="none" stroke="#000" stroke-width="1.5"/>
<line x1="37.3" y1="742.6" x2="37.3" y2="749.6" stroke="#000" stroke-width="1.5"/>
<text x="37.3" y="773" font-size="24" text-anchor="middle" >300</text>
<line x1="75.3" y1="742.6" x2="75.3" y2="746.3000000000001" stroke="#000" stroke-width="1.5"/>
<line x1="113.2" y1="742.6" x2="113.2" y2="749.6" stroke="#000" stroke-width="1.5"/>
<text x="113.2" y="773" font-size="24" text-anchor="middle" >350</text>
<line x1="151.2" y1="742.6" x2="151.2" y2="746.3000000000001" stroke="#000" stroke-width="1.5"/>
<line x1="189.1" y1="742.6" x2="189.1" y2="749.6" stroke="#000" stroke-width="1.5"/>
<text x="189.1" y="773" font-size="24" text-anchor="middle" >400</text>
<line x1="227.1" y1="742.6" x2="227.1" y2="746.3000000000001" stroke="#000" stroke-width="1.5"/>
<line x1="265.1" y1="742.6" x2="265.1" y2="749.6" stroke="#000" stroke-width="1.5"/>
<text x="265.1" y="773" font-size="24" text-anchor="middle" >450</text>
<line x1="303.0" y1="742.6" x2="303.0" y2="746.3000000000001" stroke="#000" stroke-width="1.5"/>
<line x1="341.0" y1="742.6" x2="341.0" y2="749.6" stroke="#000" stroke-width="1.5"/>
<text x="341.0" y="773" font-size="24" text-anchor="middle" >500</text>
<line x1="378.9" y1="742.6" x2="378.9" y2="746.3000000000001" stroke="#000" stroke-width="1.5"/>
<line x1="416.9" y1="742.6" x2="416.9" y2="749.6" stroke="#000" stroke-width="1.5"/>
<text x="416.9" y="773" font-size="24" text-anchor="middle" >550</text>
<line x1="454.8" y1="742.6" x2="454.8" y2="746.3000000000001" stroke="#000" stroke-width="1.5"/>
<line x1="492.8" y1="742.6" x2="492.8" y2="749.6" stroke="#000" stroke-width="1.5"/>
<text x="492.8" y="773" font-size="24" text-anchor="middle" >600</text>
<text x="168" y="799.2" font-size="27.35" font-weight="bold" text-anchor="start" >Wavelength / nm</text>
<text transform="translate(30.1,679.5) rotate(-90)" font-size="28" font-weight="bold">Photovoltage / a.u.</text>
<text x="43" y="431" font-size="21.5" font-weight="bold" text-anchor="start" >C</text>
<text x="489.5" y="428.9" font-size="21.5" font-weight="bold" text-anchor="end" >SPS</text>
<line x1="345.2" y1="450.5" x2="384" y2="450.5" stroke="#da14da" stroke-width="2"/>
<text x="389" y="456.5" font-size="21.5" text-anchor="start" >T</text>
<line x1="345.2" y1="477.6" x2="384" y2="477.6" stroke="#0e0ea8" stroke-width="2"/>
<text x="389" y="483.6" font-size="21.5" text-anchor="start" >9T/P-LFO</text>
<line x1="345.2" y1="504.6" x2="384" y2="504.6" stroke="#24e8ec" stroke-width="2"/>
<text x="389" y="510.6" font-size="21.5" text-anchor="start" >12T/P-LFO</text>
<line x1="345.2" y1="532" x2="384" y2="532" stroke="#12cc12" stroke-width="2"/>
<text x="389" y="538" font-size="21.5" text-anchor="start" >6T/P-LFO</text>
<line x1="345.2" y1="559.2" x2="384" y2="559.2" stroke="#e0101a" stroke-width="2"/>
<text x="389" y="565.2" font-size="21.5" text-anchor="start" >3T/P-LFO</text>
<line x1="345.2" y1="586.1" x2="384" y2="586.1" stroke="#000" stroke-width="2"/>
<text x="389" y="592.1" font-size="21.5" text-anchor="start" >P-LFO</text>
<line x1="338.3" y1="588" x2="338.3" y2="455.0" stroke="#111" stroke-width="1.2"/><path d="M335.6,455.0 L341.0,455.0 L338.3,445.5 Z" fill="#000"/>
<path d="M37.3,741.99 L38.3,741.99 L39.3,741.98 L40.3,741.97 L41.3,741.96 L42.3,741.95 L43.3,741.94 L44.3,741.94 L45.3,741.93 L46.3,741.92 L47.3,741.91 L48.3,741.90 L49.3,741.89 L50.3,741.88 L51.3,741.87 L52.3,741.86 L53.3,741.85 L54.3,741.84 L55.3,741.82 L56.3,741.80 L57.3,741.77 L58.3,741.72 L59.3,741.64 L60.3,741.55 L61.3,741.43 L62.3,741.30 L63.3,741.16 L64.3,741.02 L65.3,740.87 L66.3,740.72 L67.3,740.56 L68.3,740.39 L69.3,740.21 L70.3,739.99 L71.3,739.73 L72.3,739.43 L73.3,739.08 L74.3,738.68 L75.3,738.26 L76.3,737.81 L77.3,737.36 L78.3,736.90 L79.3,736.44 L80.3,735.97 L81.3,735.48 L82.3,734.98 L83.3,734.44 L84.3,733.85 L85.3,733.21 L86.3,732.51 L87.3,731.78 L88.3,731.01 L89.3,730.22 L90.3,729.42 L91.3,728.61 L92.3,727.77 L93.3,726.92 L94.3,726.03 L95.3,725.12 L96.3,724.17 L97.3,723.21 L98.3,722.23 L99.3,721.25 L100.3,720.26 L101.3,719.27 L102.3,718.28 L103.3,717.28 L104.3,716.28 L105.3,715.27 L106.3,714.27 L107.3,713.26 L108.3,712.25 L109.3,711.25 L110.3,710.26 L111.3,709.27 L112.3,708.31 L113.3,707.38 L114.3,706.47 L115.3,705.59 L116.3,704.74 L117.3,703.90 L118.3,703.09 L119.3,702.29 L120.3,701.53 L121.3,700.78 L122.3,700.06 L123.3,699.36 L124.3,698.66 L125.3,697.97 L126.3,697.29 L127.3,696.62 L128.3,695.95 L129.3,695.31 L130.3,694.69 L131.3,694.10 L132.3,693.54 L133.3,693.00 L134.3,692.48 L135.3,691.98 L136.3,691.48 L137.3,690.98 L138.3,690.49 L139.3,690.00 L140.3,689.52 L141.3,689.05 L142.3,688.60 L143.3,688.16 L144.3,687.75 L145.3,687.36 L146.3,686.98 L147.3,686.62 L148.3,686.25 L149.3,685.90 L150.3,685.56 L151.3,685.23 L152.3,684.91 L153.3,684.62 L154.3,684.34 L155.3,684.07 L156.3,683.81 L157.3,683.54 L158.3,683.26 L159.3,682.96 L160.3,682.63 L161.3,682.27 L162.3,681.88 L163.3,681.46 L164.3,681.03 L165.3,680.58 L166.3,680.13 L167.3,679.68 L168.3,679.23 L169.3,678.79 L170.3,678.34 L171.3,677.92 L172.3,677.51 L173.3,677.12 L174.3,676.77 L175.3,676.45 L176.3,676.16 L177.3,675.88 L178.3,675.62 L179.3,675.37 L180.3,675.12 L181.3,674.88 L182.3,674.63 L183.3,674.39 L184.3,674.15 L185.3,673.92 L186.3,673.71 L187.3,673.50 L188.3,673.32 L189.3,673.15 L190.3,672.99 L191.3,672.84 L192.3,672.69 L193.3,672.55 L194.3,672.41 L195.3,672.26 L196.3,672.12 L197.3,671.98 L198.3,671.84 L199.3,671.70 L200.3,671.56 L201.3,671.43 L202.3,671.30 L203.3,671.18 L204.3,671.07 L205.3,670.96 L206.3,670.87 L207.3,670.78 L208.3,670.69 L209.3,670.60 L210.3,670.51 L211.3,670.43 L212.3,670.34 L213.3,670.25 L214.3,670.17 L215.3,670.09 L216.3,670.01 L217.3,669.94 L218.3,669.89 L219.3,669.87 L220.3,669.86 L221.3,669.88 L222.3,669.93 L223.3,669.98 L224.3,670.05 L225.3,670.12 L226.3,670.19 L227.3,670.27 L228.3,670.34 L229.3,670.42 L230.3,670.51 L231.3,670.60 L232.3,670.71 L233.3,670.84 L234.3,670.98 L235.3,671.14 L236.3,671.31 L237.3,671.48 L238.3,671.66 L239.3,671.83 L240.3,671.99 L241.3,672.16 L242.3,672.34 L243.3,672.53 L244.3,672.74 L245.3,672.96 L246.3,673.20 L247.3,673.44 L248.3,673.69 L249.3,673.94 L250.3,674.19 L251.3,674.44 L252.3,674.70 L253.3,674.96 L254.3,675.23 L255.3,675.51 L256.3,675.79 L257.3,676.09 L258.3,676.39 L259.3,676.70 L260.3,677.01 L261.3,677.33 L262.3,677.64 L263.3,677.96 L264.3,678.28 L265.3,678.60 L266.3,678.92 L267.3,679.26 L268.3,679.60 L269.3,679.96 L270.3,680.32 L271.3,680.69 L272.3,681.07 L273.3,681.45 L274.3,681.83 L275.3,682.21 L276.3,682.58 L277.3,682.96 L278.3,683.33 L279.3,683.69 L280.3,684.05 L281.3,684.40 L282.3,684.74 L283.3,685.09 L284.3,685.45 L285.3,685.83 L286.3,686.25 L287.3,686.71 L288.3,687.21 L289.3,687.75 L290.3,688.32 L291.3,688.92 L292.3,689.55 L293.3,690.20 L294.3,690.87 L295.3,691.57 L296.3,692.30 L297.3,693.04 L298.3,693.78 L299.3,694.53 L300.3,695.29 L301.3,696.04 L302.3,696.79 L303.3,697.54 L304.3,698.28 L305.3,699.03 L306.3,699.77 L307.3,700.52 L308.3,701.27 L309.3,702.01 L310.3,702.76 L311.3,703.51 L312.3,704.27 L313.3,705.02 L314.3,705.77 L315.3,706.52 L316.3,707.26 L317.3,708.00 L318.3,708.72 L319.3,709.42 L320.3,710.12 L321.3,710.80 L322.3,711.48 L323.3,712.16 L324.3,712.84 L325.3,713.53 L326.3,714.23 L327.3,714.94 L328.3,715.66 L329.3,716.39 L330.3,717.13 L331.3,717.86 L332.3,718.58 L333.3,719.28 L334.3,719.96 L335.3,720.62 L336.3,721.25 L337.3,721.86 L338.3,722.45 L339.3,723.03 L340.3,723.60 L341.3,724.16 L342.3,724.72 L343.3,725.25 L344.3,725.77 L345.3,726.27 L346.3,726.74 L347.3,727.20 L348.3,727.65 L349.3,728.10 L350.3,728.54 L351.3,728.98 L352.3,729.41 L353.3,729.84 L354.3,730.26 L355.3,730.68 L356.3,731.08 L357.3,731.47 L358.3,731.86 L359.3,732.24 L360.3,732.62 L361.3,732.99 L362.3,733.37 L363.3,733.74 L364.3,734.12 L365.3,734.48 L366.3,734.85 L367.3,735.21 L368.3,735.57 L369.3,735.93 L370.3,736.28 L371.3,736.64 L372.3,736.98 L373.3,737.32 L374.3,737.64 L375.3,737.94 L376.3,738.22 L377.3,738.48 L378.3,738.72 L379.3,738.95 L380.3,739.17 L381.3,739.38 L382.3,739.59 L383.3,739.79 L384.3,739.98 L385.3,740.16 L386.3,740.31 L387.3,740.45 L388.3,740.56 L389.3,740.66 L390.3,740.74 L391.3,740.81 L392.3,740.88 L393.3,740.95 L394.3,741.02 L395.3,741.08 L396.3,741.15 L397.3,741.21 L398.3,741.26 L399.3,741.31 L400.3,741.34 L401.3,741.37 L402.3,741.39 L403.3,741.40 L404.3,741.40 L405.3,741.40 L406.3,741.41 L407.3,741.41 L408.3,741.41 L409.3,741.41 L410.3,741.41 L411.3,741.41 L412.3,741.41 L413.3,741.41 L414.3,741.42 L415.3,741.42 L416.3,741.42 L417.3,741.42 L418.3,741.42 L419.3,741.42 L420.3,741.42 L421.3,741.42 L422.3,741.42 L423.3,741.43 L424.3,741.43 L425.3,741.43 L426.3,741.43 L427.3,741.43 L428.3,741.43 L429.3,741.43 L430.3,741.43 L431.3,741.43 L432.3,741.44 L433.3,741.44 L434.3,741.44 L435.3,741.44 L436.3,741.44 L437.3,741.44 L438.3,741.44 L439.3,741.44 L440.3,741.44 L441.3,741.44 L442.3,741.45 L443.3,741.45 L444.3,741.45 L445.3,741.45 L446.3,741.45 L447.3,741.45 L448.3,741.45 L449.3,741.45 L450.3,741.45 L451.3,741.46 L452.3,741.46 L453.3,741.46 L454.3,741.46 L455.3,741.46 L456.3,741.46 L457.3,741.46 L458.3,741.46 L459.3,741.46 L460.3,741.47 L461.3,741.47 L462.3,741.47 L463.3,741.47 L464.3,741.47 L465.3,741.47 L466.3,741.47 L467.3,741.47 L468.3,741.47 L469.3,741.48 L470.3,741.48 L471.3,741.48 L472.3,741.48 L473.3,741.48 L474.3,741.48 L475.3,741.48 L476.3,741.48 L477.3,741.48 L478.3,741.49 L479.3,741.49 L480.3,741.49 L481.3,741.49 L482.3,741.49 L483.3,741.49 L484.3,741.49 L485.3,741.49 L486.3,741.49 L487.3,741.49 L488.3,741.50 L489.3,741.50 L490.3,741.50 L491.3,741.50" fill="none" stroke="#000" stroke-width="2.3" stroke-linejoin="round" stroke-linecap="round" />
<path d="M37.3,741.99 L38.3,741.98 L39.3,741.97 L40.3,741.96 L41.3,741.95 L42.3,741.94 L43.3,741.93 L44.3,741.92 L45.3,741.91 L46.3,741.90 L47.3,741.89 L48.3,741.88 L49.3,741.86 L50.3,741.85 L51.3,741.84 L52.3,741.83 L53.3,741.82 L54.3,741.81 L55.3,741.80 L56.3,741.79 L57.3,741.77 L58.3,741.76 L59.3,741.74 L60.3,741.72 L61.3,741.68 L62.3,741.61 L63.3,741.52 L64.3,741.38 L65.3,741.20 L66.3,740.99 L67.3,740.75 L68.3,740.50 L69.3,740.23 L70.3,739.96 L71.3,739.68 L72.3,739.38 L73.3,739.05 L74.3,738.69 L75.3,738.29 L76.3,737.84 L77.3,737.36 L78.3,736.84 L79.3,736.31 L80.3,735.76 L81.3,735.20 L82.3,734.62 L83.3,734.00 L84.3,733.34 L85.3,732.59 L86.3,731.74 L87.3,730.78 L88.3,729.73 L89.3,728.60 L90.3,727.42 L91.3,726.21 L92.3,724.99 L93.3,723.77 L94.3,722.56 L95.3,721.35 L96.3,720.16 L97.3,718.98 L98.3,717.81 L99.3,716.64 L100.3,715.48 L101.3,714.32 L102.3,713.16 L103.3,711.98 L104.3,710.80 L105.3,709.61 L106.3,708.39 L107.3,707.17 L108.3,705.93 L109.3,704.69 L110.3,703.45 L111.3,702.21 L112.3,701.00 L113.3,699.81 L114.3,698.67 L115.3,697.57 L116.3,696.51 L117.3,695.50 L118.3,694.51 L119.3,693.53 L120.3,692.55 L121.3,691.57 L122.3,690.59 L123.3,689.59 L124.3,688.60 L125.3,687.61 L126.3,686.62 L127.3,685.65 L128.3,684.71 L129.3,683.81 L130.3,682.98 L131.3,682.23 L132.3,681.55 L133.3,680.94 L134.3,680.38 L135.3,679.85 L136.3,679.33 L137.3,678.83 L138.3,678.33 L139.3,677.85 L140.3,677.37 L141.3,676.92 L142.3,676.49 L143.3,676.08 L144.3,675.69 L145.3,675.30 L146.3,674.93 L147.3,674.55 L148.3,674.19 L149.3,673.82 L150.3,673.46 L151.3,673.11 L152.3,672.77 L153.3,672.43 L154.3,672.11 L155.3,671.80 L156.3,671.49 L157.3,671.18 L158.3,670.88 L159.3,670.57 L160.3,670.27 L161.3,669.96 L162.3,669.65 L163.3,669.34 L164.3,669.02 L165.3,668.68 L166.3,668.33 L167.3,667.97 L168.3,667.60 L169.3,667.22 L170.3,666.83 L171.3,666.44 L172.3,666.05 L173.3,665.66 L174.3,665.26 L175.3,664.88 L176.3,664.49 L177.3,664.11 L178.3,663.75 L179.3,663.40 L180.3,663.06 L181.3,662.75 L182.3,662.44 L183.3,662.14 L184.3,661.84 L185.3,661.55 L186.3,661.26 L187.3,660.96 L188.3,660.67 L189.3,660.38 L190.3,660.09 L191.3,659.80 L192.3,659.52 L193.3,659.25 L194.3,659.00 L195.3,658.77 L196.3,658.56 L197.3,658.38 L198.3,658.21 L199.3,658.06 L200.3,657.91 L201.3,657.76 L202.3,657.62 L203.3,657.48 L204.3,657.34 L205.3,657.20 L206.3,657.05 L207.3,656.92 L208.3,656.78 L209.3,656.66 L210.3,656.55 L211.3,656.46 L212.3,656.40 L213.3,656.35 L214.3,656.33 L215.3,656.31 L216.3,656.30 L217.3,656.30 L218.3,656.30 L219.3,656.30 L220.3,656.30 L221.3,656.31 L222.3,656.31 L223.3,656.33 L224.3,656.36 L225.3,656.40 L226.3,656.45 L227.3,656.51 L228.3,656.59 L229.3,656.67 L230.3,656.76 L231.3,656.84 L232.3,656.93 L233.3,657.02 L234.3,657.10 L235.3,657.19 L236.3,657.28 L237.3,657.38 L238.3,657.49 L239.3,657.61 L240.3,657.74 L241.3,657.89 L242.3,658.05 L243.3,658.23 L244.3,658.41 L245.3,658.59 L246.3,658.78 L247.3,658.97 L248.3,659.17 L249.3,659.38 L250.3,659.60 L251.3,659.83 L252.3,660.08 L253.3,660.34 L254.3,660.60 L255.3,660.88 L256.3,661.15 L257.3,661.43 L258.3,661.71 L259.3,661.99 L260.3,662.28 L261.3,662.58 L262.3,662.88 L263.3,663.20 L264.3,663.52 L265.3,663.85 L266.3,664.19 L267.3,664.52 L268.3,664.87 L269.3,665.22 L270.3,665.57 L271.3,665.94 L272.3,666.33 L273.3,666.72 L274.3,667.13 L275.3,667.54 L276.3,667.96 L277.3,668.38 L278.3,668.80 L279.3,669.23 L280.3,669.66 L281.3,670.10 L282.3,670.55 L283.3,671.00 L284.3,671.46 L285.3,671.93 L286.3,672.42 L287.3,672.94 L288.3,673.50 L289.3,674.09 L290.3,674.72 L291.3,675.37 L292.3,676.04 L293.3,676.72 L294.3,677.40 L295.3,678.08 L296.3,678.76 L297.3,679.44 L298.3,680.12 L299.3,680.81 L300.3,681.51 L301.3,682.23 L302.3,682.98 L303.3,683.75 L304.3,684.55 L305.3,685.37 L306.3,686.21 L307.3,687.06 L308.3,687.91 L309.3,688.78 L310.3,689.65 L311.3,690.52 L312.3,691.41 L313.3,692.30 L314.3,693.19 L315.3,694.09 L316.3,694.98 L317.3,695.87 L318.3,696.75 L319.3,697.62 L320.3,698.47 L321.3,699.31 L322.3,700.11 L323.3,700.90 L324.3,701.68 L325.3,702.44 L326.3,703.20 L327.3,703.96 L328.3,704.71 L329.3,705.46 L330.3,706.21 L331.3,706.96 L332.3,707.71 L333.3,708.46 L334.3,709.21 L335.3,709.98 L336.3,710.77 L337.3,711.57 L338.3,712.41 L339.3,713.26 L340.3,714.12 L341.3,714.99 L342.3,715.84 L343.3,716.66 L344.3,717.46 L345.3,718.23 L346.3,718.96 L347.3,719.66 L348.3,720.33 L349.3,720.99 L350.3,721.62 L351.3,722.23 L352.3,722.83 L353.3,723.42 L354.3,724.01 L355.3,724.59 L356.3,725.17 L357.3,725.76 L358.3,726.34 L359.3,726.91 L360.3,727.48 L361.3,728.03 L362.3,728.55 L363.3,729.05 L364.3,729.52 L365.3,729.96 L366.3,730.37 L367.3,730.76 L368.3,731.13 L369.3,731.50 L370.3,731.85 L371.3,732.22 L372.3,732.58 L373.3,732.97 L374.3,733.38 L375.3,733.81 L376.3,734.27 L377.3,734.75 L378.3,735.25 L379.3,735.77 L380.3,736.29 L381.3,736.81 L382.3,737.32 L383.3,737.82 L384.3,738.29 L385.3,738.72 L386.3,739.09 L387.3,739.39 L388.3,739.63 L389.3,739.82 L390.3,739.97 L391.3,740.10 L392.3,740.22 L393.3,740.33 L394.3,740.44 L395.3,740.55 L396.3,740.66 L397.3,740.76 L398.3,740.85 L399.3,740.93 L400.3,740.99 L401.3,741.04 L402.3,741.07 L403.3,741.09 L404.3,741.10 L405.3,741.10 L406.3,741.11 L407.3,741.11 L408.3,741.11 L409.3,741.11 L410.3,741.11 L411.3,741.11 L412.3,741.11 L413.3,741.11 L414.3,741.12 L415.3,741.12 L416.3,741.12 L417.3,741.12 L418.3,741.12 L419.3,741.12 L420.3,741.12 L421.3,741.12 L422.3,741.12 L423.3,741.13 L424.3,741.13 L425.3,741.13 L426.3,741.13 L427.3,741.13 L428.3,741.13 L429.3,741.13 L430.3,741.13 L431.3,741.13 L432.3,741.13 L433.3,741.14 L434.3,741.14 L435.3,741.14 L436.3,741.14 L437.3,741.14 L438.3,741.14 L439.3,741.14 L440.3,741.14 L441.3,741.14 L442.3,741.15 L443.3,741.15 L444.3,741.15 L445.3,741.15 L446.3,741.15 L447.3,741.15 L448.3,741.15 L449.3,741.15 L450.3,741.15 L451.3,741.16 L452.3,741.16 L453.3,741.16 L454.3,741.16 L455.3,741.16 L456.3,741.16 L457.3,741.16 L458.3,741.16 L459.3,741.16 L460.3,741.17 L461.3,741.17 L462.3,741.17 L463.3,741.17 L464.3,741.17 L465.3,741.17 L466.3,741.17 L467.3,741.17 L468.3,741.17 L469.3,741.18 L470.3,741.18 L471.3,741.18 L472.3,741.18 L473.3,741.18 L474.3,741.18 L475.3,741.18 L476.3,741.18 L477.3,741.18 L478.3,741.19 L479.3,741.19 L480.3,741.19 L481.3,741.19 L482.3,741.19 L483.3,741.19 L484.3,741.19 L485.3,741.19 L486.3,741.19 L487.3,741.19 L488.3,741.20 L489.3,741.20 L490.3,741.20 L491.3,741.20" fill="none" stroke="#e0101a" stroke-width="2.3" stroke-linejoin="round" stroke-linecap="round" />
<path d="M37.3,741.98 L38.3,741.97 L39.3,741.96 L40.3,741.94 L41.3,741.92 L42.3,741.91 L43.3,741.89 L44.3,741.87 L45.3,741.85 L46.3,741.83 L47.3,741.81 L48.3,741.79 L49.3,741.77 L50.3,741.76 L51.3,741.74 L52.3,741.72 L53.3,741.70 L54.3,741.68 L55.3,741.66 L56.3,741.64 L57.3,741.62 L58.3,741.60 L59.3,741.58 L60.3,741.54 L61.3,741.50 L62.3,741.42 L63.3,741.31 L64.3,741.16 L65.3,740.97 L66.3,740.75 L67.3,740.49 L68.3,740.22 L69.3,739.94 L70.3,739.65 L71.3,739.34 L72.3,739.03 L73.3,738.69 L74.3,738.31 L75.3,737.90 L76.3,737.44 L77.3,736.94 L78.3,736.41 L79.3,735.87 L80.3,735.31 L81.3,734.74 L82.3,734.15 L83.3,733.53 L84.3,732.85 L85.3,732.08 L86.3,731.21 L87.3,730.23 L88.3,729.15 L89.3,728.00 L90.3,726.79 L91.3,725.55 L92.3,724.30 L93.3,723.05 L94.3,721.82 L95.3,720.59 L96.3,719.38 L97.3,718.19 L98.3,717.01 L99.3,715.85 L100.3,714.68 L101.3,713.52 L102.3,712.34 L103.3,711.16 L104.3,709.95 L105.3,708.72 L106.3,707.46 L107.3,706.17 L108.3,704.87 L109.3,703.54 L110.3,702.21 L111.3,700.88 L112.3,699.55 L113.3,698.23 L114.3,696.91 L115.3,695.59 L116.3,694.29 L117.3,693.00 L118.3,691.71 L119.3,690.43 L120.3,689.16 L121.3,687.90 L122.3,686.65 L123.3,685.40 L124.3,684.17 L125.3,682.96 L126.3,681.78 L127.3,680.65 L128.3,679.57 L129.3,678.56 L130.3,677.60 L131.3,676.69 L132.3,675.81 L133.3,674.94 L134.3,674.10 L135.3,673.29 L136.3,672.52 L137.3,671.81 L138.3,671.15 L139.3,670.54 L140.3,669.99 L141.3,669.46 L142.3,668.95 L143.3,668.46 L144.3,667.96 L145.3,667.46 L146.3,666.96 L147.3,666.45 L148.3,665.93 L149.3,665.40 L150.3,664.86 L151.3,664.30 L152.3,663.75 L153.3,663.19 L154.3,662.63 L155.3,662.07 L156.3,661.50 L157.3,660.94 L158.3,660.37 L159.3,659.80 L160.3,659.23 L161.3,658.65 L162.3,658.06 L163.3,657.48 L164.3,656.89 L165.3,656.30 L166.3,655.70 L167.3,655.11 L168.3,654.52 L169.3,653.93 L170.3,653.35 L171.3,652.77 L172.3,652.20 L173.3,651.66 L174.3,651.13 L175.3,650.63 L176.3,650.14 L177.3,649.67 L178.3,649.20 L179.3,648.74 L180.3,648.29 L181.3,647.83 L182.3,647.38 L183.3,646.92 L184.3,646.47 L185.3,646.02 L186.3,645.58 L187.3,645.14 L188.3,644.71 L189.3,644.28 L190.3,643.86 L191.3,643.45 L192.3,643.03 L193.3,642.62 L194.3,642.21 L195.3,641.79 L196.3,641.38 L197.3,640.97 L198.3,640.56 L199.3,640.15 L200.3,639.76 L201.3,639.39 L202.3,639.05 L203.3,638.76 L204.3,638.52 L205.3,638.32 L206.3,638.16 L207.3,638.03 L208.3,637.91 L209.3,637.80 L210.3,637.70 L211.3,637.59 L212.3,637.49 L213.3,637.38 L214.3,637.28 L215.3,637.17 L216.3,637.06 L217.3,636.95 L218.3,636.83 L219.3,636.72 L220.3,636.60 L221.3,636.48 L222.3,636.36 L223.3,636.24 L224.3,636.13 L225.3,636.03 L226.3,635.94 L227.3,635.87 L228.3,635.83 L229.3,635.81 L230.3,635.81 L231.3,635.83 L232.3,635.85 L233.3,635.88 L234.3,635.92 L235.3,635.95 L236.3,635.99 L237.3,636.04 L238.3,636.09 L239.3,636.17 L240.3,636.26 L241.3,636.38 L242.3,636.51 L243.3,636.66 L244.3,636.82 L245.3,636.99 L246.3,637.17 L247.3,637.36 L248.3,637.58 L249.3,637.82 L250.3,638.08 L251.3,638.37 L252.3,638.68 L253.3,639.00 L254.3,639.32 L255.3,639.65 L256.3,639.99 L257.3,640.34 L258.3,640.71 L259.3,641.10 L260.3,641.53 L261.3,642.00 L262.3,642.50 L263.3,643.03 L264.3,643.58 L265.3,644.14 L266.3,644.71 L267.3,645.27 L268.3,645.84 L269.3,646.42 L270.3,646.99 L271.3,647.57 L272.3,648.15 L273.3,648.74 L274.3,649.32 L275.3,649.92 L276.3,650.52 L277.3,651.12 L278.3,651.73 L279.3,652.36 L280.3,653.01 L281.3,653.67 L282.3,654.35 L283.3,655.05 L284.3,655.76 L285.3,656.47 L286.3,657.21 L287.3,657.95 L288.3,658.70 L289.3,659.47 L290.3,660.25 L291.3,661.03 L292.3,661.83 L293.3,662.66 L294.3,663.51 L295.3,664.39 L296.3,665.31 L297.3,666.25 L298.3,667.22 L299.3,668.21 L300.3,669.20 L301.3,670.20 L302.3,671.20 L303.3,672.20 L304.3,673.20 L305.3,674.20 L306.3,675.21 L307.3,676.23 L308.3,677.26 L309.3,678.32 L310.3,679.41 L311.3,680.53 L312.3,681.68 L313.3,682.86 L314.3,684.05 L315.3,685.26 L316.3,686.47 L317.3,687.69 L318.3,688.91 L319.3,690.15 L320.3,691.39 L321.3,692.64 L322.3,693.88 L323.3,695.12 L324.3,696.33 L325.3,697.51 L326.3,698.63 L327.3,699.71 L328.3,700.73 L329.3,701.70 L330.3,702.65 L331.3,703.57 L332.3,704.48 L333.3,705.38 L334.3,706.27 L335.3,707.14 L336.3,708.00 L337.3,708.85 L338.3,709.69 L339.3,710.53 L340.3,711.37 L341.3,712.21 L342.3,713.07 L343.3,713.93 L344.3,714.81 L345.3,715.70 L346.3,716.60 L347.3,717.50 L348.3,718.40 L349.3,719.28 L350.3,720.14 L351.3,720.97 L352.3,721.77 L353.3,722.53 L354.3,723.26 L355.3,723.96 L356.3,724.63 L357.3,725.28 L358.3,725.92 L359.3,726.54 L360.3,727.15 L361.3,727.75 L362.3,728.35 L363.3,728.93 L364.3,729.49 L365.3,730.04 L366.3,730.57 L367.3,731.07 L368.3,731.54 L369.3,731.99 L370.3,732.43 L371.3,732.85 L372.3,733.26 L373.3,733.66 L374.3,734.08 L375.3,734.50 L376.3,734.93 L377.3,735.37 L378.3,735.82 L379.3,736.27 L380.3,736.72 L381.3,737.17 L382.3,737.62 L383.3,738.05 L384.3,738.46 L385.3,738.84 L386.3,739.16 L387.3,739.43 L388.3,739.64 L389.3,739.81 L390.3,739.95 L391.3,740.07 L392.3,740.18 L393.3,740.28 L394.3,740.39 L395.3,740.49 L396.3,740.59 L397.3,740.68 L398.3,740.77 L399.3,740.84 L400.3,740.90 L401.3,740.94 L402.3,740.97 L403.3,740.99 L404.3,740.99 L405.3,741.00 L406.3,741.00 L407.3,741.00 L408.3,741.00 L409.3,741.00 L410.3,741.00 L411.3,741.00 L412.3,741.00 L413.3,741.00 L414.3,741.00 L415.3,741.00 L416.3,741.00 L417.3,741.00 L418.3,741.00 L419.3,741.00 L420.3,741.00 L421.3,741.00 L422.3,741.00 L423.3,741.00 L424.3,741.00 L425.3,741.00 L426.3,741.00 L427.3,741.00 L428.3,741.00 L429.3,741.00 L430.3,741.00 L431.3,741.00 L432.3,741.00 L433.3,741.00 L434.3,741.00 L435.3,741.00 L436.3,741.00 L437.3,741.00 L438.3,741.00 L439.3,741.00 L440.3,741.00 L441.3,741.00 L442.3,741.00 L443.3,741.00 L444.3,741.00 L445.3,741.00 L446.3,741.00 L447.3,741.00 L448.3,741.00 L449.3,741.00 L450.3,741.00 L451.3,741.00 L452.3,741.00 L453.3,741.00 L454.3,741.00 L455.3,741.00 L456.3,741.00 L457.3,741.00 L458.3,741.00 L459.3,741.00 L460.3,741.00 L461.3,741.00 L462.3,741.00 L463.3,741.00 L464.3,741.00 L465.3,741.00 L466.3,741.00 L467.3,741.00 L468.3,741.00 L469.3,741.00 L470.3,741.00 L471.3,741.00 L472.3,741.00 L473.3,741.00 L474.3,741.00 L475.3,741.00 L476.3,741.00 L477.3,741.00 L478.3,741.00 L479.3,741.00 L480.3,741.00 L481.3,741.00 L482.3,741.00 L483.3,741.00 L484.3,741.00 L485.3,741.00 L486.3,741.00 L487.3,741.00 L488.3,741.00 L489.3,741.00 L490.3,741.00 L491.3,741.00" fill="none" stroke="#12cc12" stroke-width="2.3" stroke-linejoin="round" stroke-linecap="round" />
<path d="M37.3,741.99 L38.3,741.98 L39.3,741.98 L40.3,741.97 L41.3,741.96 L42.3,741.95 L43.3,741.94 L44.3,741.92 L45.3,741.91 L46.3,741.90 L47.3,741.89 L48.3,741.88 L49.3,741.87 L50.3,741.86 L51.3,741.84 L52.3,741.83 L53.3,741.80 L54.3,741.76 L55.3,741.70 L56.3,741.63 L57.3,741.53 L58.3,741.41 L59.3,741.28 L60.3,741.14 L61.3,740.99 L62.3,740.84 L63.3,740.69 L64.3,740.53 L65.3,740.36 L66.3,740.18 L67.3,739.96 L68.3,739.70 L69.3,739.41 L70.3,739.07 L71.3,738.69 L72.3,738.29 L73.3,737.87 L74.3,737.45 L75.3,737.02 L76.3,736.58 L77.3,736.12 L78.3,735.64 L79.3,735.10 L80.3,734.47 L81.3,733.74 L82.3,732.89 L83.3,731.92 L84.3,730.87 L85.3,729.75 L86.3,728.59 L87.3,727.39 L88.3,726.14 L89.3,724.84 L90.3,723.46 L91.3,721.99 L92.3,720.42 L93.3,718.77 L94.3,717.05 L95.3,715.27 L96.3,713.45 L97.3,711.59 L98.3,709.66 L99.3,707.66 L100.3,705.60 L101.3,703.49 L102.3,701.33 L103.3,699.14 L104.3,696.94 L105.3,694.73 L106.3,692.53 L107.3,690.33 L108.3,688.13 L109.3,685.94 L110.3,683.75 L111.3,681.57 L112.3,679.40 L113.3,677.25 L114.3,675.11 L115.3,673.01 L116.3,670.94 L117.3,668.90 L118.3,666.92 L119.3,664.99 L120.3,663.12 L121.3,661.31 L122.3,659.56 L123.3,657.84 L124.3,656.15 L125.3,654.47 L126.3,652.80 L127.3,651.13 L128.3,649.47 L129.3,647.80 L130.3,646.13 L131.3,644.47 L132.3,642.81 L133.3,641.16 L134.3,639.52 L135.3,637.89 L136.3,636.29 L137.3,634.72 L138.3,633.17 L139.3,631.64 L140.3,630.13 L141.3,628.65 L142.3,627.20 L143.3,625.80 L144.3,624.45 L145.3,623.17 L146.3,621.94 L147.3,620.76 L148.3,619.60 L149.3,618.46 L150.3,617.32 L151.3,616.17 L152.3,615.02 L153.3,613.84 L154.3,612.64 L155.3,611.43 L156.3,610.19 L157.3,608.95 L158.3,607.69 L159.3,606.43 L160.3,605.18 L161.3,603.92 L162.3,602.67 L163.3,601.43 L164.3,600.20 L165.3,598.99 L166.3,597.79 L167.3,596.59 L168.3,595.41 L169.3,594.22 L170.3,593.04 L171.3,591.86 L172.3,590.68 L173.3,589.50 L174.3,588.32 L175.3,587.15 L176.3,585.98 L177.3,584.82 L178.3,583.67 L179.3,582.55 L180.3,581.45 L181.3,580.39 L182.3,579.35 L183.3,578.34 L184.3,577.34 L185.3,576.37 L186.3,575.41 L187.3,574.47 L188.3,573.55 L189.3,572.66 L190.3,571.78 L191.3,570.94 L192.3,570.13 L193.3,569.35 L194.3,568.61 L195.3,567.91 L196.3,567.24 L197.3,566.60 L198.3,566.01 L199.3,565.46 L200.3,564.95 L201.3,564.48 L202.3,564.05 L203.3,563.65 L204.3,563.30 L205.3,562.98 L206.3,562.70 L207.3,562.46 L208.3,562.24 L209.3,562.05 L210.3,561.89 L211.3,561.75 L212.3,561.64 L213.3,561.54 L214.3,561.46 L215.3,561.39 L216.3,561.33 L217.3,561.29 L218.3,561.28 L219.3,561.29 L220.3,561.34 L221.3,561.41 L222.3,561.50 L223.3,561.61 L224.3,561.73 L225.3,561.86 L226.3,561.99 L227.3,562.14 L228.3,562.31 L229.3,562.50 L230.3,562.71 L231.3,562.95 L232.3,563.21 L233.3,563.49 L234.3,563.80 L235.3,564.14 L236.3,564.50 L237.3,564.89 L238.3,565.30 L239.3,565.72 L240.3,566.16 L241.3,566.61 L242.3,567.08 L243.3,567.58 L244.3,568.11 L245.3,568.66 L246.3,569.25 L247.3,569.85 L248.3,570.48 L249.3,571.13 L250.3,571.81 L251.3,572.53 L252.3,573.27 L253.3,574.05 L254.3,574.85 L255.3,575.66 L256.3,576.49 L257.3,577.32 L258.3,578.17 L259.3,579.03 L260.3,579.91 L261.3,580.80 L262.3,581.70 L263.3,582.61 L264.3,583.53 L265.3,584.45 L266.3,585.39 L267.3,586.33 L268.3,587.29 L269.3,588.27 L270.3,589.25 L271.3,590.25 L272.3,591.24 L273.3,592.23 L274.3,593.20 L275.3,594.16 L276.3,595.10 L277.3,596.03 L278.3,596.98 L279.3,597.97 L280.3,599.01 L281.3,600.11 L282.3,601.27 L283.3,602.47 L284.3,603.72 L285.3,605.01 L286.3,606.32 L287.3,607.67 L288.3,609.05 L289.3,610.46 L290.3,611.92 L291.3,613.42 L292.3,614.96 L293.3,616.53 L294.3,618.13 L295.3,619.75 L296.3,621.38 L297.3,623.03 L298.3,624.69 L299.3,626.38 L300.3,628.10 L301.3,629.87 L302.3,631.70 L303.3,633.56 L304.3,635.46 L305.3,637.36 L306.3,639.26 L307.3,641.13 L308.3,642.98 L309.3,644.81 L310.3,646.63 L311.3,648.44 L312.3,650.25 L313.3,652.07 L314.3,653.90 L315.3,655.73 L316.3,657.56 L317.3,659.39 L318.3,661.20 L319.3,662.98 L320.3,664.73 L321.3,666.44 L322.3,668.10 L323.3,669.72 L324.3,671.32 L325.3,672.90 L326.3,674.45 L327.3,675.99 L328.3,677.49 L329.3,678.95 L330.3,680.37 L331.3,681.76 L332.3,683.11 L333.3,684.45 L334.3,685.77 L335.3,687.08 L336.3,688.38 L337.3,689.68 L338.3,690.96 L339.3,692.24 L340.3,693.52 L341.3,694.78 L342.3,696.04 L343.3,697.30 L344.3,698.54 L345.3,699.75 L346.3,700.93 L347.3,702.07 L348.3,703.17 L349.3,704.23 L350.3,705.27 L351.3,706.28 L352.3,707.27 L353.3,708.25 L354.3,709.21 L355.3,710.15 L356.3,711.06 L357.3,711.95 L358.3,712.83 L359.3,713.69 L360.3,714.55 L361.3,715.40 L362.3,716.24 L363.3,717.08 L364.3,717.89 L365.3,718.70 L366.3,719.48 L367.3,720.26 L368.3,721.02 L369.3,721.78 L370.3,722.53 L371.3,723.28 L372.3,724.02 L373.3,724.75 L374.3,725.46 L375.3,726.14 L376.3,726.79 L377.3,727.42 L378.3,728.02 L379.3,728.60 L380.3,729.17 L381.3,729.73 L382.3,730.28 L383.3,730.83 L384.3,731.37 L385.3,731.88 L386.3,732.37 L387.3,732.83 L388.3,733.26 L389.3,733.67 L390.3,734.06 L391.3,734.45 L392.3,734.82 L393.3,735.19 L394.3,735.55 L395.3,735.90 L396.3,736.24 L397.3,736.55 L398.3,736.84 L399.3,737.10 L400.3,737.34 L401.3,737.57 L402.3,737.79 L403.3,738.00 L404.3,738.21 L405.3,738.41 L406.3,738.61 L407.3,738.79 L408.3,738.95 L409.3,739.10 L410.3,739.23 L411.3,739.35 L412.3,739.46 L413.3,739.56 L414.3,739.65 L415.3,739.75 L416.3,739.84 L417.3,739.93 L418.3,740.00 L419.3,740.07 L420.3,740.13 L421.3,740.17 L422.3,740.19 L423.3,740.21 L424.3,740.22 L425.3,740.23 L426.3,740.24 L427.3,740.25 L428.3,740.26 L429.3,740.26 L430.3,740.27 L431.3,740.28 L432.3,740.28 L433.3,740.29 L434.3,740.30 L435.3,740.30 L436.3,740.31 L437.3,740.32 L438.3,740.32 L439.3,740.33 L440.3,740.34 L441.3,740.34 L442.3,740.35 L443.3,740.36 L444.3,740.36 L445.3,740.37 L446.3,740.37 L447.3,740.38 L448.3,740.39 L449.3,740.39 L450.3,740.39 L451.3,740.40 L452.3,740.40 L453.3,740.40 L454.3,740.40 L455.3,740.40 L456.3,740.40 L457.3,740.40 L458.3,740.40 L459.3,740.40 L460.3,740.40 L461.3,740.40 L462.3,740.40 L463.3,740.40 L464.3,740.40 L465.3,740.40 L466.3,740.40 L467.3,740.40 L468.3,740.40 L469.3,740.40 L470.3,740.40 L471.3,740.40 L472.3,740.40 L473.3,740.40 L474.3,740.40 L475.3,740.40 L476.3,740.40 L477.3,740.40 L478.3,740.40 L479.3,740.40 L480.3,740.40 L481.3,740.40 L482.3,740.40 L483.3,740.40 L484.3,740.40 L485.3,740.40 L486.3,740.40 L487.3,740.40 L488.3,740.40 L489.3,740.40 L490.3,740.40 L491.3,740.40" fill="none" stroke="#0e0ea8" stroke-width="2.3" stroke-linejoin="round" stroke-linecap="round" />
<path d="M37.3,741.94 L38.3,741.91 L39.3,741.86 L40.3,741.81 L41.3,741.76 L42.3,741.70 L43.3,741.64 L44.3,741.58 L45.3,741.52 L46.3,741.46 L47.3,741.40 L48.3,741.34 L49.3,741.28 L50.3,741.22 L51.3,741.16 L52.3,741.10 L53.3,741.04 L54.3,740.98 L55.3,740.91 L56.3,740.85 L57.3,740.79 L58.3,740.73 L59.3,740.67 L60.3,740.61 L61.3,740.54 L62.3,740.45 L63.3,740.34 L64.3,740.20 L65.3,740.00 L66.3,739.76 L67.3,739.46 L68.3,739.12 L69.3,738.75 L70.3,738.36 L71.3,737.97 L72.3,737.56 L73.3,737.15 L74.3,736.72 L75.3,736.26 L76.3,735.74 L77.3,735.14 L78.3,734.44 L79.3,733.62 L80.3,732.71 L81.3,731.72 L82.3,730.67 L83.3,729.58 L84.3,728.46 L85.3,727.30 L86.3,726.08 L87.3,724.78 L88.3,723.40 L89.3,721.93 L90.3,720.38 L91.3,718.79 L92.3,717.15 L93.3,715.49 L94.3,713.80 L95.3,712.06 L96.3,710.26 L97.3,708.38 L98.3,706.41 L99.3,704.37 L100.3,702.27 L101.3,700.13 L102.3,697.98 L103.3,695.82 L104.3,693.69 L105.3,691.57 L106.3,689.49 L107.3,687.43 L108.3,685.40 L109.3,683.40 L110.3,681.43 L111.3,679.52 L112.3,677.68 L113.3,675.94 L114.3,674.29 L115.3,672.73 L116.3,671.23 L117.3,669.76 L118.3,668.31 L119.3,666.83 L120.3,665.33 L121.3,663.80 L122.3,662.24 L123.3,660.66 L124.3,659.06 L125.3,657.46 L126.3,655.86 L127.3,654.26 L128.3,652.67 L129.3,651.07 L130.3,649.47 L131.3,647.86 L132.3,646.23 L133.3,644.58 L134.3,642.92 L135.3,641.24 L136.3,639.57 L137.3,637.91 L138.3,636.30 L139.3,634.73 L140.3,633.23 L141.3,631.79 L142.3,630.41 L143.3,629.11 L144.3,627.88 L145.3,626.73 L146.3,625.64 L147.3,624.61 L148.3,623.64 L149.3,622.73 L150.3,621.86 L151.3,621.03 L152.3,620.24 L153.3,619.46 L154.3,618.68 L155.3,617.91 L156.3,617.12 L157.3,616.34 L158.3,615.54 L159.3,614.76 L160.3,613.98 L161.3,613.22 L162.3,612.47 L163.3,611.74 L164.3,611.03 L165.3,610.32 L166.3,609.62 L167.3,608.93 L168.3,608.23 L169.3,607.53 L170.3,606.84 L171.3,606.14 L172.3,605.44 L173.3,604.76 L174.3,604.07 L175.3,603.40 L176.3,602.74 L177.3,602.08 L178.3,601.42 L179.3,600.75 L180.3,600.06 L181.3,599.36 L182.3,598.63 L183.3,597.91 L184.3,597.20 L185.3,596.51 L186.3,595.86 L187.3,595.26 L188.3,594.70 L189.3,594.18 L190.3,593.69 L191.3,593.22 L192.3,592.78 L193.3,592.37 L194.3,591.97 L195.3,591.59 L196.3,591.23 L197.3,590.89 L198.3,590.58 L199.3,590.29 L200.3,590.04 L201.3,589.82 L202.3,589.63 L203.3,589.46 L204.3,589.31 L205.3,589.17 L206.3,589.05 L207.3,588.96 L208.3,588.90 L209.3,588.88 L210.3,588.88 L211.3,588.91 L212.3,588.96 L213.3,589.02 L214.3,589.10 L215.3,589.20 L216.3,589.32 L217.3,589.47 L218.3,589.64 L219.3,589.84 L220.3,590.06 L221.3,590.28 L222.3,590.52 L223.3,590.78 L224.3,591.05 L225.3,591.35 L226.3,591.67 L227.3,592.01 L228.3,592.37 L229.3,592.74 L230.3,593.13 L231.3,593.51 L232.3,593.90 L233.3,594.30 L234.3,594.70 L235.3,595.11 L236.3,595.53 L237.3,595.96 L238.3,596.39 L239.3,596.84 L240.3,597.30 L241.3,597.79 L242.3,598.30 L243.3,598.83 L244.3,599.38 L245.3,599.95 L246.3,600.52 L247.3,601.11 L248.3,601.72 L249.3,602.34 L250.3,602.98 L251.3,603.63 L252.3,604.29 L253.3,604.96 L254.3,605.62 L255.3,606.29 L256.3,606.96 L257.3,607.62 L258.3,608.29 L259.3,608.97 L260.3,609.65 L261.3,610.35 L262.3,611.09 L263.3,611.86 L264.3,612.68 L265.3,613.54 L266.3,614.42 L267.3,615.32 L268.3,616.21 L269.3,617.09 L270.3,617.94 L271.3,618.77 L272.3,619.56 L273.3,620.32 L274.3,621.07 L275.3,621.81 L276.3,622.55 L277.3,623.29 L278.3,624.04 L279.3,624.79 L280.3,625.56 L281.3,626.34 L282.3,627.14 L283.3,627.95 L284.3,628.79 L285.3,629.67 L286.3,630.61 L287.3,631.61 L288.3,632.67 L289.3,633.78 L290.3,634.93 L291.3,636.11 L292.3,637.32 L293.3,638.57 L294.3,639.87 L295.3,641.23 L296.3,642.66 L297.3,644.15 L298.3,645.71 L299.3,647.30 L300.3,648.91 L301.3,650.53 L302.3,652.14 L303.3,653.74 L304.3,655.33 L305.3,656.89 L306.3,658.43 L307.3,659.95 L308.3,661.46 L309.3,662.96 L310.3,664.44 L311.3,665.90 L312.3,667.35 L313.3,668.79 L314.3,670.21 L315.3,671.62 L316.3,673.02 L317.3,674.41 L318.3,675.79 L319.3,677.15 L320.3,678.48 L321.3,679.78 L322.3,681.06 L323.3,682.31 L324.3,683.54 L325.3,684.76 L326.3,685.99 L327.3,687.22 L328.3,688.47 L329.3,689.73 L330.3,691.02 L331.3,692.33 L332.3,693.65 L333.3,694.97 L334.3,696.29 L335.3,697.59 L336.3,698.86 L337.3,700.08 L338.3,701.25 L339.3,702.38 L340.3,703.48 L341.3,704.54 L342.3,705.59 L343.3,706.63 L344.3,707.66 L345.3,708.68 L346.3,709.68 L347.3,710.66 L348.3,711.61 L349.3,712.55 L350.3,713.47 L351.3,714.39 L352.3,715.29 L353.3,716.19 L354.3,717.07 L355.3,717.94 L356.3,718.78 L357.3,719.59 L358.3,720.38 L359.3,721.15 L360.3,721.90 L361.3,722.64 L362.3,723.38 L363.3,724.11 L364.3,724.82 L365.3,725.53 L366.3,726.20 L367.3,726.85 L368.3,727.46 L369.3,728.03 L370.3,728.57 L371.3,729.10 L372.3,729.62 L373.3,730.12 L374.3,730.62 L375.3,731.12 L376.3,731.60 L377.3,732.07 L378.3,732.53 L379.3,732.96 L380.3,733.37 L381.3,733.76 L382.3,734.15 L383.3,734.52 L384.3,734.90 L385.3,735.26 L386.3,735.62 L387.3,735.97 L388.3,736.30 L389.3,736.61 L390.3,736.89 L391.3,737.15 L392.3,737.39 L393.3,737.61 L394.3,737.83 L395.3,738.04 L396.3,738.25 L397.3,738.45 L398.3,738.64 L399.3,738.81 L400.3,738.96 L401.3,739.10 L402.3,739.21 L403.3,739.30 L404.3,739.39 L405.3,739.46 L406.3,739.54 L407.3,739.61 L408.3,739.69 L409.3,739.76 L410.3,739.83 L411.3,739.90 L412.3,739.98 L413.3,740.04 L414.3,740.11 L415.3,740.16 L416.3,740.21 L417.3,740.25 L418.3,740.27 L419.3,740.29 L420.3,740.30 L421.3,740.30 L422.3,740.31 L423.3,740.31 L424.3,740.31 L425.3,740.31 L426.3,740.31 L427.3,740.31 L428.3,740.32 L429.3,740.32 L430.3,740.32 L431.3,740.32 L432.3,740.32 L433.3,740.32 L434.3,740.32 L435.3,740.32 L436.3,740.33 L437.3,740.33 L438.3,740.33 L439.3,740.33 L440.3,740.33 L441.3,740.33 L442.3,740.33 L443.3,740.34 L444.3,740.34 L445.3,740.34 L446.3,740.34 L447.3,740.34 L448.3,740.34 L449.3,740.34 L450.3,740.34 L451.3,740.35 L452.3,740.35 L453.3,740.35 L454.3,740.35 L455.3,740.35 L456.3,740.35 L457.3,740.35 L458.3,740.36 L459.3,740.36 L460.3,740.36 L461.3,740.36 L462.3,740.36 L463.3,740.36 L464.3,740.36 L465.3,740.36 L466.3,740.37 L467.3,740.37 L468.3,740.37 L469.3,740.37 L470.3,740.37 L471.3,740.37 L472.3,740.37 L473.3,740.38 L474.3,740.38 L475.3,740.38 L476.3,740.38 L477.3,740.38 L478.3,740.38 L479.3,740.38 L480.3,740.38 L481.3,740.39 L482.3,740.39 L483.3,740.39 L484.3,740.39 L485.3,740.39 L486.3,740.39 L487.3,740.39 L488.3,740.39 L489.3,740.40 L490.3,740.40 L491.3,740.40" fill="none" stroke="#24e8ec" stroke-width="2.3" stroke-linejoin="round" stroke-linecap="round" />
<path d="M37.3,742.02 L38.3,742.11 L39.3,742.21 L40.3,742.24 L41.3,742.15 L42.3,742.03 L43.3,741.92 L44.3,741.80 L45.3,741.69 L46.3,741.57 L47.3,741.45 L48.3,741.34 L49.3,741.19 L50.3,740.90 L51.3,740.55 L52.3,740.19 L53.3,739.82 L54.3,739.46 L55.3,739.10 L56.3,738.73 L57.3,738.30 L58.3,737.59 L59.3,736.75 L60.3,735.89 L61.3,735.03 L62.3,734.17 L63.3,733.25 L64.3,732.01 L65.3,730.35 L66.3,728.61 L67.3,726.87 L68.3,725.12 L69.3,723.24 L70.3,720.80 L71.3,718.17 L72.3,715.53 L73.3,712.86 L74.3,709.90 L75.3,706.12 L76.3,702.15 L77.3,698.16 L78.3,693.95 L79.3,689.13 L80.3,684.16 L81.3,678.94 L82.3,672.66 L83.3,665.75 L84.3,657.46 L85.3,647.87 L86.3,638.56 L87.3,630.82 L88.3,623.33 L89.3,615.17 L90.3,606.33 L91.3,597.36 L92.3,588.40 L93.3,579.57 L94.3,571.00 L95.3,562.50 L96.3,553.67 L97.3,543.34 L98.3,532.18 L99.3,522.63 L100.3,515.40 L101.3,508.63 L102.3,501.81 L103.3,494.79 L104.3,487.02 L105.3,479.03 L106.3,471.64 L107.3,465.10 L108.3,458.85 L109.3,453.05 L110.3,447.62 L111.3,443.16 L112.3,439.69 L113.3,436.75 L114.3,435.21 L115.3,434.01 L116.3,433.16 L117.3,433.71 L118.3,434.61 L119.3,435.83 L120.3,438.34 L121.3,441.30 L122.3,444.57 L123.3,448.90 L124.3,453.61 L125.3,458.51 L126.3,464.05 L127.3,470.01 L128.3,476.72 L129.3,484.62 L130.3,492.99 L131.3,502.20 L132.3,511.99 L133.3,522.33 L134.3,531.60 L135.3,540.28 L136.3,548.83 L137.3,557.20 L138.3,565.49 L139.3,573.81 L140.3,582.68 L141.3,593.14 L142.3,603.97 L143.3,614.31 L144.3,622.51 L145.3,629.71 L146.3,636.65 L147.3,643.01 L148.3,649.01 L149.3,654.97 L150.3,660.92 L151.3,666.88 L152.3,672.86 L153.3,678.83 L154.3,684.57 L155.3,689.27 L156.3,693.34 L157.3,697.30 L158.3,701.26 L159.3,705.16 L160.3,708.69 L161.3,711.61 L162.3,714.38 L163.3,716.97 L164.3,719.08 L165.3,721.06 L166.3,723.03 L167.3,724.95 L168.3,726.50 L169.3,727.45 L170.3,728.26 L171.3,729.07 L172.3,729.88 L173.3,730.69 L174.3,731.50 L175.3,732.27 L176.3,732.84 L177.3,733.15 L178.3,733.40 L179.3,733.66 L180.3,733.91 L181.3,734.16 L182.3,734.41 L183.3,734.66 L184.3,734.92 L185.3,735.17 L186.3,735.42 L187.3,735.67 L188.3,735.90 L189.3,736.03 L190.3,736.10 L191.3,736.16 L192.3,736.21 L193.3,736.27 L194.3,736.33 L195.3,736.39 L196.3,736.44 L197.3,736.50 L198.3,736.56 L199.3,736.62 L200.3,736.67 L201.3,736.73 L202.3,736.79 L203.3,736.85 L204.3,736.90 L205.3,736.96 L206.3,737.02 L207.3,737.08 L208.3,737.13 L209.3,737.18 L210.3,737.23 L211.3,737.28 L212.3,737.33 L213.3,737.38 L214.3,737.43 L215.3,737.48 L216.3,737.53 L217.3,737.58 L218.3,737.63 L219.3,737.68 L220.3,737.73 L221.3,737.78 L222.3,737.83 L223.3,737.88 L224.3,737.93 L225.3,737.98 L226.3,738.03 L227.3,738.08 L228.3,738.13 L229.3,738.18 L230.3,738.23 L231.3,738.29 L232.3,738.35 L233.3,738.41 L234.3,738.48 L235.3,738.55 L236.3,738.61 L237.3,738.68 L238.3,738.75 L239.3,738.82 L240.3,738.88 L241.3,738.95 L242.3,739.02 L243.3,739.08 L244.3,739.15 L245.3,739.22 L246.3,739.28 L247.3,739.35 L248.3,739.42 L249.3,739.48 L250.3,739.55 L251.3,739.62 L252.3,739.69 L253.3,739.75 L254.3,739.82 L255.3,739.88 L256.3,739.93 L257.3,739.97 L258.3,740.01 L259.3,740.06 L260.3,740.10 L261.3,740.14 L262.3,740.18 L263.3,740.22 L264.3,740.26 L265.3,740.30 L266.3,740.34 L267.3,740.38 L268.3,740.42 L269.3,740.46 L270.3,740.50 L271.3,740.54 L272.3,740.59 L273.3,740.63 L274.3,740.67 L275.3,740.71 L276.3,740.75 L277.3,740.79 L278.3,740.83 L279.3,740.87 L280.3,740.90 L281.3,740.93 L282.3,740.95 L283.3,740.97 L284.3,740.99 L285.3,741.01 L286.3,741.03 L287.3,741.05 L288.3,741.07 L289.3,741.09 L290.3,741.11 L291.3,741.13 L292.3,741.15 L293.3,741.17 L294.3,741.19 L295.3,741.21 L296.3,741.23 L297.3,741.25 L298.3,741.27 L299.3,741.29 L300.3,741.30 L301.3,741.32 L302.3,741.33 L303.3,741.35 L304.3,741.36 L305.3,741.38 L306.3,741.39 L307.3,741.41 L308.3,741.42 L309.3,741.44 L310.3,741.45 L311.3,741.47 L312.3,741.48 L313.3,741.50 L314.3,741.51 L315.3,741.53 L316.3,741.54 L317.3,741.56 L318.3,741.57 L319.3,741.59 L320.3,741.60 L321.3,741.62 L322.3,741.63 L323.3,741.65 L324.3,741.66 L325.3,741.68 L326.3,741.69 L327.3,741.71 L328.3,741.72 L329.3,741.74 L330.3,741.75 L331.3,741.77 L332.3,741.78 L333.3,741.80 L334.3,741.81 L335.3,741.83 L336.3,741.84 L337.3,741.86 L338.3,741.87 L339.3,741.89 L340.3,741.90 L341.3,741.91 L342.3,741.92 L343.3,741.93 L344.3,741.94 L345.3,741.94 L346.3,741.95 L347.3,741.96 L348.3,741.97 L349.3,741.98 L350.3,741.99 L351.3,741.99 L352.3,742.00 L353.3,742.01 L354.3,742.02 L355.3,742.03 L356.3,742.04 L357.3,742.04 L358.3,742.05 L359.3,742.06 L360.3,742.07 L361.3,742.08 L362.3,742.09 L363.3,742.09 L364.3,742.10 L365.3,742.11 L366.3,742.12 L367.3,742.13 L368.3,742.14 L369.3,742.14 L370.3,742.15 L371.3,742.16 L372.3,742.17 L373.3,742.18 L374.3,742.19 L375.3,742.19 L376.3,742.20 L377.3,742.21 L378.3,742.22 L379.3,742.23 L380.3,742.24 L381.3,742.24 L382.3,742.25 L383.3,742.26 L384.3,742.27 L385.3,742.28 L386.3,742.29 L387.3,742.29 L388.3,742.30 L389.3,742.31 L390.3,742.32 L391.3,742.33 L392.3,742.34 L393.3,742.34 L394.3,742.35 L395.3,742.36 L396.3,742.37 L397.3,742.38 L398.3,742.39 L399.3,742.39 L400.3,742.40 L401.3,742.40 L402.3,742.40 L403.3,742.41 L404.3,742.41 L405.3,742.41 L406.3,742.41 L407.3,742.42 L408.3,742.42 L409.3,742.42 L410.3,742.42 L411.3,742.42 L412.3,742.43 L413.3,742.43 L414.3,742.43 L415.3,742.43 L416.3,742.44 L417.3,742.44 L418.3,742.44 L419.3,742.44 L420.3,742.44 L421.3,742.45 L422.3,742.45 L423.3,742.45 L424.3,742.45 L425.3,742.46 L426.3,742.46 L427.3,742.46 L428.3,742.46 L429.3,742.46 L430.3,742.47 L431.3,742.47 L432.3,742.47 L433.3,742.47 L434.3,742.47 L435.3,742.48 L436.3,742.48 L437.3,742.48 L438.3,742.48 L439.3,742.49 L440.3,742.49 L441.3,742.49 L442.3,742.49 L443.3,742.49 L444.3,742.50 L445.3,742.50 L446.3,742.50 L447.3,742.50 L448.3,742.50 L449.3,742.51 L450.3,742.51 L451.3,742.51 L452.3,742.51 L453.3,742.52 L454.3,742.52 L455.3,742.52 L456.3,742.52 L457.3,742.52 L458.3,742.53 L459.3,742.53 L460.3,742.53 L461.3,742.53 L462.3,742.54 L463.3,742.54 L464.3,742.54 L465.3,742.54 L466.3,742.54 L467.3,742.55 L468.3,742.55 L469.3,742.55 L470.3,742.55 L471.3,742.56 L472.3,742.56 L473.3,742.56 L474.3,742.56 L475.3,742.56 L476.3,742.57 L477.3,742.57 L478.3,742.57 L479.3,742.57 L480.3,742.57 L481.3,742.58 L482.3,742.58 L483.3,742.58 L484.3,742.58 L485.3,742.59 L486.3,742.59 L487.3,742.59 L488.3,742.59 L489.3,742.59 L490.3,742.60 L491.3,742.60" fill="none" stroke="#da14da" stroke-width="2.3" stroke-linejoin="round" stroke-linecap="round" />
<rect x="542.7" y="406.6" width="465.4" height="337.4" fill="none" stroke="#000" stroke-width="1.5"/>
<line x1="542.7" y1="744" x2="542.7" y2="751" stroke="#000" stroke-width="1.5"/>
<text x="542.7" y="774" font-size="24" text-anchor="middle" >400</text>
<line x1="609.2" y1="744" x2="609.2" y2="747.7" stroke="#000" stroke-width="1.5"/>
<line x1="675.7" y1="744" x2="675.7" y2="751" stroke="#000" stroke-width="1.5"/>
<text x="675.7" y="774" font-size="24" text-anchor="middle" >500</text>
<line x1="742.2" y1="744" x2="742.2" y2="747.7" stroke="#000" stroke-width="1.5"/>
<line x1="808.6" y1="744" x2="808.6" y2="751" stroke="#000" stroke-width="1.5"/>
<text x="808.6" y="774" font-size="24" text-anchor="middle" >600</text>
<line x1="875.1" y1="744" x2="875.1" y2="747.7" stroke="#000" stroke-width="1.5"/>
<line x1="941.6" y1="744" x2="941.6" y2="751" stroke="#000" stroke-width="1.5"/>
<text x="941.6" y="774" font-size="24" text-anchor="middle" >700</text>
<line x1="1008.1" y1="744" x2="1008.1" y2="747.7" stroke="#000" stroke-width="1.5"/>
<text x="678" y="797.6" font-size="27.35" font-weight="bold" text-anchor="start" >Wavelength / nm</text>
<text transform="translate(532.9,681.5) rotate(-90)" font-size="28.2" font-weight="bold">PL Intensity / a.u.</text>
<text x="548.5" y="431.2" font-size="21.5" font-weight="bold" text-anchor="start" >D</text>
<line x1="859.1" y1="438.9" x2="897.8" y2="438.9" stroke="#000" stroke-width="2"/>
<text x="902.5" y="444.9" font-size="21.5" text-anchor="start" >P-LFO</text>
<line x1="859.1" y1="466.2" x2="897.8" y2="466.2" stroke="#e0101a" stroke-width="2"/>
<text x="902.5" y="472.2" font-size="21.5" text-anchor="start" >3T/P-LFO</text>
<line x1="859.1" y1="493.2" x2="897.8" y2="493.2" stroke="#12cc12" stroke-width="2"/>
<text x="902.5" y="499.2" font-size="21.5" text-anchor="start" >6T/P-LFO</text>
<line x1="859.1" y1="520.3" x2="897.8" y2="520.3" stroke="#24e8ec" stroke-width="2"/>
<text x="902.5" y="526.3" font-size="21.5" text-anchor="start" >12T/P-LFO</text>
<line x1="859.1" y1="547.7" x2="897.8" y2="547.7" stroke="#1010c8" stroke-width="2"/>
<text x="902.5" y="553.7" font-size="21.5" text-anchor="start" >9T/P-LFO</text>
<line x1="852.9" y1="435.4" x2="852.9" y2="544.9" stroke="#111" stroke-width="1.2"/><path d="M850.1999999999999,544.9 L855.6,544.9 L852.9,554.4 Z" fill="#000"/>
<path d="M543.0,743.51 L544.0,743.52 L545.0,743.53 L546.0,743.54 L547.0,743.55 L548.0,743.57 L549.0,743.58 L550.0,743.60 L551.0,743.61 L552.0,743.62 L553.0,743.64 L554.0,743.65 L555.0,743.66 L556.0,743.64 L557.0,743.56 L558.0,743.35 L559.0,742.99 L560.0,742.54 L561.0,742.01 L562.0,741.35 L563.0,740.36 L564.0,738.93 L565.0,737.12 L566.0,735.03 L567.0,732.52 L568.0,729.23 L569.0,724.99 L570.0,719.92 L571.0,714.12 L572.0,707.50 L573.0,699.99 L574.0,691.48 L575.0,681.86 L576.0,671.09 L577.0,658.87 L578.0,644.64 L579.0,628.52 L580.0,612.02 L581.0,596.73 L582.0,582.84 L583.0,569.67 L584.0,556.68 L585.0,543.65 L586.0,530.74 L587.0,518.60 L588.0,507.80 L589.0,498.36 L590.0,490.04 L591.0,482.68 L592.0,476.29 L593.0,470.81 L594.0,466.02 L595.0,461.78 L596.0,458.08 L597.0,454.84 L598.0,452.01 L599.0,449.63 L600.0,447.70 L601.0,446.14 L602.0,445.02 L603.0,444.41 L604.0,444.34 L605.0,444.80 L606.0,445.82 L607.0,447.46 L608.0,449.67 L609.0,452.33 L610.0,455.32 L611.0,458.62 L612.0,462.11 L613.0,465.67 L614.0,469.23 L615.0,472.74 L616.0,476.12 L617.0,479.28 L618.0,482.19 L619.0,484.93 L620.0,487.55 L621.0,490.03 L622.0,492.39 L623.0,494.67 L624.0,496.91 L625.0,499.12 L626.0,501.28 L627.0,503.36 L628.0,505.39 L629.0,507.40 L630.0,509.42 L631.0,511.49 L632.0,513.61 L633.0,515.80 L634.0,518.04 L635.0,520.31 L636.0,522.71 L637.0,525.33 L638.0,528.22 L639.0,531.29 L640.0,534.40 L641.0,537.45 L642.0,540.42 L643.0,543.33 L644.0,546.24 L645.0,549.20 L646.0,552.22 L647.0,555.28 L648.0,558.31 L649.0,561.23 L650.0,563.94 L651.0,566.44 L652.0,568.78 L653.0,570.99 L654.0,573.00 L655.0,574.70 L656.0,576.14 L657.0,577.44 L658.0,578.71 L659.0,580.00 L660.0,581.35 L661.0,582.78 L662.0,584.26 L663.0,585.75 L664.0,587.25 L665.0,588.76 L666.0,590.28 L667.0,591.80 L668.0,593.32 L669.0,594.82 L670.0,596.24 L671.0,597.54 L672.0,598.73 L673.0,599.85 L674.0,600.95 L675.0,602.03 L676.0,603.09 L677.0,604.12 L678.0,605.14 L679.0,606.16 L680.0,607.19 L681.0,608.25 L682.0,609.36 L683.0,610.54 L684.0,611.76 L685.0,612.99 L686.0,614.21 L687.0,615.41 L688.0,616.55 L689.0,617.66 L690.0,618.75 L691.0,619.84 L692.0,620.92 L693.0,621.95 L694.0,622.88 L695.0,623.69 L696.0,624.41 L697.0,625.09 L698.0,625.77 L699.0,626.44 L700.0,627.12 L701.0,627.80 L702.0,628.48 L703.0,629.16 L704.0,629.85 L705.0,630.54 L706.0,631.23 L707.0,631.93 L708.0,632.63 L709.0,633.34 L710.0,634.07 L711.0,634.80 L712.0,635.54 L713.0,636.27 L714.0,636.97 L715.0,637.63 L716.0,638.26 L717.0,638.87 L718.0,639.49 L719.0,640.11 L720.0,640.74 L721.0,641.40 L722.0,642.10 L723.0,642.83 L724.0,643.58 L725.0,644.37 L726.0,645.25 L727.0,646.27 L728.0,647.40 L729.0,648.59 L730.0,649.79 L731.0,651.01 L732.0,652.22 L733.0,653.45 L734.0,654.70 L735.0,655.95 L736.0,657.18 L737.0,658.31 L738.0,659.32 L739.0,660.22 L740.0,661.02 L741.0,661.73 L742.0,662.34 L743.0,662.89 L744.0,663.41 L745.0,663.86 L746.0,664.22 L747.0,664.48 L748.0,664.69 L749.0,664.89 L750.0,665.09 L751.0,665.31 L752.0,665.60 L753.0,665.99 L754.0,666.45 L755.0,666.96 L756.0,667.48 L757.0,668.01 L758.0,668.54 L759.0,669.09 L760.0,669.63 L761.0,670.16 L762.0,670.65 L763.0,671.08 L764.0,671.44 L765.0,671.77 L766.0,672.08 L767.0,672.39 L768.0,672.73 L769.0,673.12 L770.0,673.60 L771.0,674.13 L772.0,674.68 L773.0,675.24 L774.0,675.78 L775.0,676.30 L776.0,676.80 L777.0,677.27 L778.0,677.72 L779.0,678.13 L780.0,678.46 L781.0,678.70 L782.0,678.84 L783.0,678.91 L784.0,678.94 L785.0,678.96 L786.0,678.99 L787.0,679.08 L788.0,679.27 L789.0,679.59 L790.0,679.99 L791.0,680.43 L792.0,680.88 L793.0,681.35 L794.0,681.85 L795.0,682.42 L796.0,683.06 L797.0,683.73 L798.0,684.42 L799.0,685.12 L800.0,685.82 L801.0,686.56 L802.0,687.32 L803.0,688.12 L804.0,688.92 L805.0,689.72 L806.0,690.52 L807.0,691.28 L808.0,691.99 L809.0,692.63 L810.0,693.23 L811.0,693.81 L812.0,694.40 L813.0,694.98 L814.0,695.57 L815.0,696.19 L816.0,696.87 L817.0,697.62 L818.0,698.43 L819.0,699.25 L820.0,700.07 L821.0,700.90 L822.0,701.72 L823.0,702.51 L824.0,703.25 L825.0,703.91 L826.0,704.51 L827.0,705.10 L828.0,705.68 L829.0,706.26 L830.0,706.83 L831.0,707.38 L832.0,707.88 L833.0,708.30 L834.0,708.67 L835.0,709.01 L836.0,709.35 L837.0,709.69 L838.0,710.02 L839.0,710.34 L840.0,710.63 L841.0,710.88 L842.0,711.10 L843.0,711.32 L844.0,711.58 L845.0,711.98 L846.0,712.55 L847.0,713.24 L848.0,713.94 L849.0,714.60 L850.0,715.22 L851.0,715.85 L852.0,716.54 L853.0,717.30 L854.0,718.11 L855.0,718.89 L856.0,719.60 L857.0,720.27 L858.0,720.93 L859.0,721.63 L860.0,722.40 L861.0,723.21 L862.0,724.05 L863.0,724.88 L864.0,725.71 L865.0,726.46 L866.0,727.04 L867.0,727.37 L868.0,727.51 L869.0,727.57 L870.0,727.59 L871.0,727.62 L872.0,727.65 L873.0,727.72 L874.0,727.86 L875.0,728.13 L876.0,728.51 L877.0,728.94 L878.0,729.40 L879.0,729.88 L880.0,730.40 L881.0,730.98 L882.0,731.62 L883.0,732.28 L884.0,732.95 L885.0,733.62 L886.0,734.25 L887.0,734.83 L888.0,735.30 L889.0,735.70 L890.0,736.06 L891.0,736.40 L892.0,736.74 L893.0,737.07 L894.0,737.36 L895.0,737.61 L896.0,737.82 L897.0,738.01 L898.0,738.19 L899.0,738.37 L900.0,738.55 L901.0,738.73 L902.0,738.91 L903.0,739.09 L904.0,739.26 L905.0,739.44 L906.0,739.61 L907.0,739.78 L908.0,739.95 L909.0,740.12 L910.0,740.29 L911.0,740.46 L912.0,740.64 L913.0,740.80 L914.0,740.97 L915.0,741.11 L916.0,741.21 L917.0,741.29 L918.0,741.36 L919.0,741.42 L920.0,741.48 L921.0,741.54 L922.0,741.60 L923.0,741.66 L924.0,741.72 L925.0,741.78 L926.0,741.83 L927.0,741.85 L928.0,741.84 L929.0,741.81 L930.0,741.77 L931.0,741.73 L932.0,741.69 L933.0,741.67 L934.0,741.67 L935.0,741.71 L936.0,741.79 L937.0,741.88 L938.0,741.98 L939.0,742.07 L940.0,742.17 L941.0,742.27 L942.0,742.36 L943.0,742.44 L944.0,742.49 L945.0,742.53 L946.0,742.56 L947.0,742.58 L948.0,742.61 L949.0,742.63 L950.0,742.65 L951.0,742.68 L952.0,742.70 L953.0,742.72 L954.0,742.75 L955.0,742.77 L956.0,742.79 L957.0,742.81 L958.0,742.84 L959.0,742.86 L960.0,742.88 L961.0,742.91 L962.0,742.93 L963.0,742.95 L964.0,742.97 L965.0,742.99 L966.0,743.00 L967.0,743.01 L968.0,743.02 L969.0,743.03 L970.0,743.03 L971.0,743.04 L972.0,743.05 L973.0,743.06 L974.0,743.06 L975.0,743.07 L976.0,743.08 L977.0,743.08 L978.0,743.09 L979.0,743.10 L980.0,743.10 L981.0,743.11 L982.0,743.12 L983.0,743.13 L984.0,743.13 L985.0,743.14 L986.0,743.15 L987.0,743.15 L988.0,743.16 L989.0,743.17 L990.0,743.17 L991.0,743.18 L992.0,743.19 L993.0,743.20 L994.0,743.20 L995.0,743.21 L996.0,743.22 L997.0,743.22 L998.0,743.23 L999.0,743.24 L1000.0,743.24 L1001.0,743.25 L1002.0,743.26 L1003.0,743.27 L1004.0,743.27 L1005.0,743.28 L1006.0,743.29 L1007.0,743.29 L1008.0,743.30" fill="none" stroke="#000" stroke-width="2.3" stroke-linejoin="round" stroke-linecap="round" />
<path d="M543.0,743.50 L544.0,743.50 L545.0,743.50 L546.0,743.50 L547.0,743.50 L548.0,743.50 L549.0,743.50 L550.0,743.50 L551.0,743.50 L552.0,743.50 L553.0,743.50 L554.0,743.50 L555.0,743.50 L556.0,743.50 L557.0,743.50 L558.0,743.50 L559.0,743.50 L560.0,743.49 L561.0,743.43 L562.0,743.26 L563.0,742.94 L564.0,742.50 L565.0,742.00 L566.0,741.37 L567.0,740.48 L568.0,739.21 L569.0,737.64 L570.0,735.92 L571.0,734.04 L572.0,731.85 L573.0,729.12 L574.0,725.86 L575.0,722.21 L576.0,718.26 L577.0,713.94 L578.0,709.28 L579.0,704.33 L580.0,699.04 L581.0,693.26 L582.0,686.90 L583.0,679.93 L584.0,672.13 L585.0,663.43 L586.0,654.44 L587.0,646.17 L588.0,639.18 L589.0,633.36 L590.0,628.37 L591.0,623.96 L592.0,619.93 L593.0,616.18 L594.0,612.78 L595.0,609.74 L596.0,607.00 L597.0,604.54 L598.0,602.46 L599.0,600.78 L600.0,599.40 L601.0,598.22 L602.0,597.29 L603.0,596.62 L604.0,596.23 L605.0,596.14 L606.0,596.39 L607.0,596.91 L608.0,597.61 L609.0,598.49 L610.0,599.61 L611.0,600.90 L612.0,602.29 L613.0,603.69 L614.0,605.05 L615.0,606.36 L616.0,607.64 L617.0,608.88 L618.0,610.05 L619.0,611.04 L620.0,611.75 L621.0,612.21 L622.0,612.53 L623.0,612.77 L624.0,612.91 L625.0,612.93 L626.0,612.86 L627.0,612.75 L628.0,612.65 L629.0,612.63 L630.0,612.77 L631.0,613.14 L632.0,613.68 L633.0,614.29 L634.0,614.93 L635.0,615.59 L636.0,616.28 L637.0,616.99 L638.0,617.72 L639.0,618.44 L640.0,619.09 L641.0,619.62 L642.0,619.99 L643.0,620.25 L644.0,620.47 L645.0,620.68 L646.0,620.93 L647.0,621.25 L648.0,621.70 L649.0,622.28 L650.0,622.94 L651.0,623.62 L652.0,624.31 L653.0,624.99 L654.0,625.65 L655.0,626.28 L656.0,626.88 L657.0,627.47 L658.0,628.05 L659.0,628.63 L660.0,629.22 L661.0,629.83 L662.0,630.52 L663.0,631.34 L664.0,632.26 L665.0,633.25 L666.0,634.27 L667.0,635.28 L668.0,636.28 L669.0,637.28 L670.0,638.27 L671.0,639.25 L672.0,640.23 L673.0,641.19 L674.0,642.09 L675.0,642.90 L676.0,643.61 L677.0,644.26 L678.0,644.89 L679.0,645.51 L680.0,646.10 L681.0,646.60 L682.0,646.93 L683.0,647.07 L684.0,647.09 L685.0,647.06 L686.0,647.02 L687.0,646.98 L688.0,646.94 L689.0,646.90 L690.0,646.91 L691.0,647.03 L692.0,647.29 L693.0,647.68 L694.0,648.13 L695.0,648.61 L696.0,649.08 L697.0,649.55 L698.0,650.02 L699.0,650.47 L700.0,650.90 L701.0,651.31 L702.0,651.71 L703.0,652.11 L704.0,652.50 L705.0,652.89 L706.0,653.25 L707.0,653.58 L708.0,653.89 L709.0,654.20 L710.0,654.50 L711.0,654.81 L712.0,655.17 L713.0,655.62 L714.0,656.16 L715.0,656.76 L716.0,657.38 L717.0,658.03 L718.0,658.70 L719.0,659.41 L720.0,660.15 L721.0,660.91 L722.0,661.66 L723.0,662.39 L724.0,663.03 L725.0,663.48 L726.0,663.71 L727.0,663.78 L728.0,663.80 L729.0,663.80 L730.0,663.80 L731.0,663.82 L732.0,663.90 L733.0,664.10 L734.0,664.46 L735.0,664.94 L736.0,665.47 L737.0,666.01 L738.0,666.56 L739.0,667.16 L740.0,667.83 L741.0,668.58 L742.0,669.33 L743.0,670.00 L744.0,670.54 L745.0,670.97 L746.0,671.33 L747.0,671.67 L748.0,672.00 L749.0,672.31 L750.0,672.61 L751.0,672.87 L752.0,673.09 L753.0,673.27 L754.0,673.43 L755.0,673.59 L756.0,673.76 L757.0,673.93 L758.0,674.12 L759.0,674.35 L760.0,674.64 L761.0,674.99 L762.0,675.40 L763.0,675.88 L764.0,676.43 L765.0,677.02 L766.0,677.62 L767.0,678.25 L768.0,678.91 L769.0,679.58 L770.0,680.27 L771.0,680.96 L772.0,681.65 L773.0,682.34 L774.0,683.00 L775.0,683.61 L776.0,684.14 L777.0,684.59 L778.0,684.99 L779.0,685.38 L780.0,685.76 L781.0,686.14 L782.0,686.52 L783.0,686.89 L784.0,687.25 L785.0,687.60 L786.0,687.93 L787.0,688.27 L788.0,688.60 L789.0,688.94 L790.0,689.31 L791.0,689.75 L792.0,690.32 L793.0,691.04 L794.0,691.85 L795.0,692.69 L796.0,693.54 L797.0,694.39 L798.0,695.21 L799.0,695.99 L800.0,696.67 L801.0,697.24 L802.0,697.76 L803.0,698.25 L804.0,698.73 L805.0,699.20 L806.0,699.64 L807.0,700.02 L808.0,700.34 L809.0,700.64 L810.0,700.93 L811.0,701.22 L812.0,701.51 L813.0,701.80 L814.0,702.08 L815.0,702.36 L816.0,702.63 L817.0,702.89 L818.0,703.14 L819.0,703.39 L820.0,703.64 L821.0,703.88 L822.0,704.14 L823.0,704.41 L824.0,704.72 L825.0,705.08 L826.0,705.49 L827.0,705.90 L828.0,706.32 L829.0,706.74 L830.0,707.17 L831.0,707.65 L832.0,708.25 L833.0,709.00 L834.0,709.86 L835.0,710.78 L836.0,711.70 L837.0,712.62 L838.0,713.54 L839.0,714.42 L840.0,715.21 L841.0,715.88 L842.0,716.47 L843.0,717.02 L844.0,717.58 L845.0,718.15 L846.0,718.75 L847.0,719.36 L848.0,719.92 L849.0,720.40 L850.0,720.83 L851.0,721.24 L852.0,721.69 L853.0,722.20 L854.0,722.75 L855.0,723.32 L856.0,723.89 L857.0,724.47 L858.0,725.03 L859.0,725.59 L860.0,726.10 L861.0,726.55 L862.0,726.95 L863.0,727.32 L864.0,727.69 L865.0,728.06 L866.0,728.42 L867.0,728.78 L868.0,729.13 L869.0,729.47 L870.0,729.79 L871.0,730.10 L872.0,730.41 L873.0,730.72 L874.0,731.03 L875.0,731.34 L876.0,731.65 L877.0,731.97 L878.0,732.30 L879.0,732.65 L880.0,733.02 L881.0,733.39 L882.0,733.76 L883.0,734.14 L884.0,734.51 L885.0,734.88 L886.0,735.24 L887.0,735.57 L888.0,735.87 L889.0,736.13 L890.0,736.38 L891.0,736.63 L892.0,736.87 L893.0,737.12 L894.0,737.36 L895.0,737.60 L896.0,737.82 L897.0,738.01 L898.0,738.17 L899.0,738.31 L900.0,738.44 L901.0,738.57 L902.0,738.70 L903.0,738.83 L904.0,738.96 L905.0,739.10 L906.0,739.27 L907.0,739.46 L908.0,739.67 L909.0,739.89 L910.0,740.12 L911.0,740.34 L912.0,740.56 L913.0,740.78 L914.0,740.99 L915.0,741.17 L916.0,741.31 L917.0,741.41 L918.0,741.48 L919.0,741.55 L920.0,741.62 L921.0,741.69 L922.0,741.76 L923.0,741.83 L924.0,741.89 L925.0,741.96 L926.0,742.03 L927.0,742.08 L928.0,742.12 L929.0,742.15 L930.0,742.17 L931.0,742.19 L932.0,742.22 L933.0,742.24 L934.0,742.27 L935.0,742.29 L936.0,742.31 L937.0,742.34 L938.0,742.36 L939.0,742.38 L940.0,742.41 L941.0,742.43 L942.0,742.46 L943.0,742.48 L944.0,742.50 L945.0,742.53 L946.0,742.55 L947.0,742.57 L948.0,742.60 L949.0,742.62 L950.0,742.64 L951.0,742.67 L952.0,742.69 L953.0,742.72 L954.0,742.74 L955.0,742.76 L956.0,742.79 L957.0,742.81 L958.0,742.83 L959.0,742.86 L960.0,742.88 L961.0,742.91 L962.0,742.93 L963.0,742.95 L964.0,742.97 L965.0,742.99 L966.0,743.00 L967.0,743.01 L968.0,743.02 L969.0,743.03 L970.0,743.03 L971.0,743.04 L972.0,743.05 L973.0,743.06 L974.0,743.06 L975.0,743.07 L976.0,743.08 L977.0,743.08 L978.0,743.09 L979.0,743.10 L980.0,743.10 L981.0,743.11 L982.0,743.12 L983.0,743.13 L984.0,743.13 L985.0,743.14 L986.0,743.15 L987.0,743.15 L988.0,743.16 L989.0,743.17 L990.0,743.17 L991.0,743.18 L992.0,743.19 L993.0,743.20 L994.0,743.20 L995.0,743.21 L996.0,743.22 L997.0,743.22 L998.0,743.23 L999.0,743.24 L1000.0,743.24 L1001.0,743.25 L1002.0,743.26 L1003.0,743.27 L1004.0,743.27 L1005.0,743.28 L1006.0,743.29 L1007.0,743.29 L1008.0,743.30" fill="none" stroke="#e0101a" stroke-width="2.3" stroke-linejoin="round" stroke-linecap="round" />
<path d="M543.0,743.50 L544.0,743.50 L545.0,743.50 L546.0,743.50 L547.0,743.50 L548.0,743.50 L549.0,743.50 L550.0,743.50 L551.0,743.50 L552.0,743.50 L553.0,743.50 L554.0,743.50 L555.0,743.50 L556.0,743.50 L557.0,743.50 L558.0,743.50 L559.0,743.50 L560.0,743.50 L561.0,743.49 L562.0,743.43 L563.0,743.28 L564.0,742.98 L565.0,742.58 L566.0,742.12 L567.0,741.57 L568.0,740.82 L569.0,739.72 L570.0,738.28 L571.0,736.62 L572.0,734.84 L573.0,732.86 L574.0,730.47 L575.0,727.58 L576.0,724.30 L577.0,720.83 L578.0,717.15 L579.0,713.17 L580.0,708.88 L581.0,704.37 L582.0,699.68 L583.0,694.69 L584.0,689.27 L585.0,683.43 L586.0,677.24 L587.0,670.58 L588.0,663.38 L589.0,656.02 L590.0,649.41 L591.0,644.28 L592.0,640.52 L593.0,637.53 L594.0,634.87 L595.0,632.49 L596.0,630.42 L597.0,628.59 L598.0,626.90 L599.0,625.36 L600.0,624.08 L601.0,623.10 L602.0,622.31 L603.0,621.62 L604.0,621.06 L605.0,620.81 L606.0,620.99 L607.0,621.49 L608.0,622.16 L609.0,622.89 L610.0,623.71 L611.0,624.67 L612.0,625.76 L613.0,626.94 L614.0,628.14 L615.0,629.32 L616.0,630.41 L617.0,631.35 L618.0,632.12 L619.0,632.80 L620.0,633.42 L621.0,633.98 L622.0,634.39 L623.0,634.61 L624.0,634.68 L625.0,634.70 L626.0,634.70 L627.0,634.71 L628.0,634.75 L629.0,634.89 L630.0,635.19 L631.0,635.62 L632.0,636.14 L633.0,636.68 L634.0,637.24 L635.0,637.81 L636.0,638.41 L637.0,639.01 L638.0,639.57 L639.0,640.04 L640.0,640.42 L641.0,640.74 L642.0,641.04 L643.0,641.31 L644.0,641.55 L645.0,641.75 L646.0,641.93 L647.0,642.11 L648.0,642.30 L649.0,642.53 L650.0,642.83 L651.0,643.18 L652.0,643.56 L653.0,643.95 L654.0,644.34 L655.0,644.74 L656.0,645.13 L657.0,645.52 L658.0,645.93 L659.0,646.37 L660.0,646.92 L661.0,647.60 L662.0,648.39 L663.0,649.22 L664.0,650.06 L665.0,650.90 L666.0,651.74 L667.0,652.59 L668.0,653.46 L669.0,654.37 L670.0,655.29 L671.0,656.23 L672.0,657.17 L673.0,658.11 L674.0,659.01 L675.0,659.85 L676.0,660.58 L677.0,661.25 L678.0,661.88 L679.0,662.46 L680.0,662.93 L681.0,663.22 L682.0,663.35 L683.0,663.39 L684.0,663.40 L685.0,663.40 L686.0,663.40 L687.0,663.40 L688.0,663.40 L689.0,663.41 L690.0,663.44 L691.0,663.54 L692.0,663.74 L693.0,664.02 L694.0,664.35 L695.0,664.68 L696.0,665.02 L697.0,665.36 L698.0,665.71 L699.0,666.07 L700.0,666.45 L701.0,666.86 L702.0,667.28 L703.0,667.70 L704.0,668.11 L705.0,668.53 L706.0,668.94 L707.0,669.34 L708.0,669.71 L709.0,670.06 L710.0,670.40 L711.0,670.73 L712.0,671.07 L713.0,671.40 L714.0,671.76 L715.0,672.15 L716.0,672.62 L717.0,673.15 L718.0,673.71 L719.0,674.29 L720.0,674.87 L721.0,675.44 L722.0,675.98 L723.0,676.45 L724.0,676.77 L725.0,676.95 L726.0,677.05 L727.0,677.12 L728.0,677.19 L729.0,677.25 L730.0,677.32 L731.0,677.40 L732.0,677.52 L733.0,677.74 L734.0,678.09 L735.0,678.54 L736.0,679.01 L737.0,679.50 L738.0,679.99 L739.0,680.48 L740.0,680.97 L741.0,681.46 L742.0,681.93 L743.0,682.34 L744.0,682.67 L745.0,682.95 L746.0,683.20 L747.0,683.44 L748.0,683.68 L749.0,683.92 L750.0,684.16 L751.0,684.40 L752.0,684.65 L753.0,684.90 L754.0,685.17 L755.0,685.46 L756.0,685.77 L757.0,686.09 L758.0,686.40 L759.0,686.72 L760.0,687.04 L761.0,687.36 L762.0,687.68 L763.0,688.00 L764.0,688.36 L765.0,688.76 L766.0,689.21 L767.0,689.69 L768.0,690.18 L769.0,690.68 L770.0,691.17 L771.0,691.67 L772.0,692.16 L773.0,692.64 L774.0,693.09 L775.0,693.50 L776.0,693.88 L777.0,694.25 L778.0,694.61 L779.0,694.97 L780.0,695.33 L781.0,695.70 L782.0,696.05 L783.0,696.41 L784.0,696.76 L785.0,697.10 L786.0,697.43 L787.0,697.77 L788.0,698.10 L789.0,698.44 L790.0,698.79 L791.0,699.19 L792.0,699.68 L793.0,700.26 L794.0,700.90 L795.0,701.55 L796.0,702.21 L797.0,702.87 L798.0,703.52 L799.0,704.12 L800.0,704.64 L801.0,705.07 L802.0,705.45 L803.0,705.82 L804.0,706.17 L805.0,706.53 L806.0,706.89 L807.0,707.25 L808.0,707.60 L809.0,707.93 L810.0,708.25 L811.0,708.54 L812.0,708.83 L813.0,709.12 L814.0,709.41 L815.0,709.69 L816.0,709.98 L817.0,710.27 L818.0,710.56 L819.0,710.84 L820.0,711.13 L821.0,711.42 L822.0,711.71 L823.0,711.99 L824.0,712.28 L825.0,712.57 L826.0,712.87 L827.0,713.19 L828.0,713.59 L829.0,714.08 L830.0,714.63 L831.0,715.20 L832.0,715.78 L833.0,716.36 L834.0,716.94 L835.0,717.51 L836.0,718.06 L837.0,718.60 L838.0,719.11 L839.0,719.62 L840.0,720.12 L841.0,720.63 L842.0,721.14 L843.0,721.64 L844.0,722.15 L845.0,722.66 L846.0,723.18 L847.0,723.69 L848.0,724.21 L849.0,724.72 L850.0,725.24 L851.0,725.75 L852.0,726.26 L853.0,726.76 L854.0,727.22 L855.0,727.63 L856.0,727.98 L857.0,728.30 L858.0,728.61 L859.0,728.92 L860.0,729.23 L861.0,729.54 L862.0,729.84 L863.0,730.15 L864.0,730.45 L865.0,730.74 L866.0,731.03 L867.0,731.31 L868.0,731.60 L869.0,731.89 L870.0,732.17 L871.0,732.46 L872.0,732.74 L873.0,733.03 L874.0,733.33 L875.0,733.65 L876.0,733.97 L877.0,734.30 L878.0,734.63 L879.0,734.97 L880.0,735.30 L881.0,735.63 L882.0,735.97 L883.0,736.29 L884.0,736.60 L885.0,736.88 L886.0,737.12 L887.0,737.33 L888.0,737.52 L889.0,737.72 L890.0,737.91 L891.0,738.11 L892.0,738.30 L893.0,738.50 L894.0,738.69 L895.0,738.88 L896.0,739.06 L897.0,739.23 L898.0,739.37 L899.0,739.51 L900.0,739.64 L901.0,739.77 L902.0,739.89 L903.0,740.02 L904.0,740.15 L905.0,740.28 L906.0,740.41 L907.0,740.54 L908.0,740.66 L909.0,740.79 L910.0,740.91 L911.0,741.01 L912.0,741.09 L913.0,741.16 L914.0,741.23 L915.0,741.30 L916.0,741.36 L917.0,741.43 L918.0,741.50 L919.0,741.56 L920.0,741.63 L921.0,741.70 L922.0,741.76 L923.0,741.83 L924.0,741.90 L925.0,741.96 L926.0,742.03 L927.0,742.08 L928.0,742.12 L929.0,742.15 L930.0,742.17 L931.0,742.19 L932.0,742.22 L933.0,742.24 L934.0,742.27 L935.0,742.29 L936.0,742.31 L937.0,742.34 L938.0,742.36 L939.0,742.38 L940.0,742.41 L941.0,742.43 L942.0,742.46 L943.0,742.48 L944.0,742.50 L945.0,742.53 L946.0,742.55 L947.0,742.57 L948.0,742.60 L949.0,742.62 L950.0,742.64 L951.0,742.67 L952.0,742.69 L953.0,742.72 L954.0,742.74 L955.0,742.76 L956.0,742.79 L957.0,742.81 L958.0,742.83 L959.0,742.86 L960.0,742.88 L961.0,742.91 L962.0,742.93 L963.0,742.95 L964.0,742.97 L965.0,742.99 L966.0,743.00 L967.0,743.01 L968.0,743.02 L969.0,743.03 L970.0,743.03 L971.0,743.04 L972.0,743.05 L973.0,743.06 L974.0,743.06 L975.0,743.07 L976.0,743.08 L977.0,743.08 L978.0,743.09 L979.0,743.10 L980.0,743.10 L981.0,743.11 L982.0,743.12 L983.0,743.13 L984.0,743.13 L985.0,743.14 L986.0,743.15 L987.0,743.15 L988.0,743.16 L989.0,743.17 L990.0,743.17 L991.0,743.18 L992.0,743.19 L993.0,743.20 L994.0,743.20 L995.0,743.21 L996.0,743.22 L997.0,743.22 L998.0,743.23 L999.0,743.24 L1000.0,743.24 L1001.0,743.25 L1002.0,743.26 L1003.0,743.27 L1004.0,743.27 L1005.0,743.28 L1006.0,743.29 L1007.0,743.29 L1008.0,743.30" fill="none" stroke="#12cc12" stroke-width="2.3" stroke-linejoin="round" stroke-linecap="round" />
<path d="M543.0,743.50 L544.0,743.51 L545.0,743.52 L546.0,743.52 L547.0,743.53 L548.0,743.54 L549.0,743.55 L550.0,743.56 L551.0,743.57 L552.0,743.57 L553.0,743.58 L554.0,743.59 L555.0,743.60 L556.0,743.61 L557.0,743.62 L558.0,743.62 L559.0,743.63 L560.0,743.64 L561.0,743.65 L562.0,743.66 L563.0,743.67 L564.0,743.67 L565.0,743.66 L566.0,743.56 L567.0,743.24 L568.0,742.63 L569.0,741.79 L570.0,740.84 L571.0,739.85 L572.0,738.80 L573.0,737.55 L574.0,735.85 L575.0,733.59 L576.0,730.91 L577.0,728.00 L578.0,724.90 L579.0,721.49 L580.0,717.76 L581.0,713.84 L582.0,709.89 L583.0,706.04 L584.0,702.35 L585.0,698.82 L586.0,695.38 L587.0,692.05 L588.0,688.92 L589.0,686.05 L590.0,683.39 L591.0,680.88 L592.0,678.60 L593.0,676.74 L594.0,675.33 L595.0,674.22 L596.0,673.24 L597.0,672.36 L598.0,671.63 L599.0,671.13 L600.0,670.81 L601.0,670.60 L602.0,670.50 L603.0,670.51 L604.0,670.62 L605.0,670.77 L606.0,670.93 L607.0,671.09 L608.0,671.25 L609.0,671.44 L610.0,671.67 L611.0,671.97 L612.0,672.33 L613.0,672.71 L614.0,673.11 L615.0,673.50 L616.0,673.90 L617.0,674.28 L618.0,674.64 L619.0,675.00 L620.0,675.35 L621.0,675.69 L622.0,675.98 L623.0,676.15 L624.0,676.17 L625.0,676.07 L626.0,675.92 L627.0,675.76 L628.0,675.60 L629.0,675.45 L630.0,675.31 L631.0,675.22 L632.0,675.22 L633.0,675.35 L634.0,675.56 L635.0,675.80 L636.0,676.05 L637.0,676.30 L638.0,676.55 L639.0,676.79 L640.0,677.03 L641.0,677.26 L642.0,677.49 L643.0,677.71 L644.0,677.93 L645.0,678.15 L646.0,678.37 L647.0,678.59 L648.0,678.80 L649.0,678.98 L650.0,679.12 L651.0,679.22 L652.0,679.30 L653.0,679.37 L654.0,679.45 L655.0,679.53 L656.0,679.63 L657.0,679.78 L658.0,680.03 L659.0,680.36 L660.0,680.74 L661.0,681.13 L662.0,681.54 L663.0,681.98 L664.0,682.44 L665.0,682.91 L666.0,683.38 L667.0,683.82 L668.0,684.19 L669.0,684.45 L670.0,684.63 L671.0,684.78 L672.0,684.91 L673.0,685.03 L674.0,685.14 L675.0,685.21 L676.0,685.21 L677.0,685.18 L678.0,685.12 L679.0,685.06 L680.0,685.02 L681.0,685.00 L682.0,685.05 L683.0,685.17 L684.0,685.34 L685.0,685.53 L686.0,685.71 L687.0,685.90 L688.0,686.09 L689.0,686.29 L690.0,686.49 L691.0,686.72 L692.0,687.00 L693.0,687.31 L694.0,687.64 L695.0,687.98 L696.0,688.31 L697.0,688.65 L698.0,688.99 L699.0,689.32 L700.0,689.65 L701.0,689.94 L702.0,690.15 L703.0,690.25 L704.0,690.29 L705.0,690.30 L706.0,690.30 L707.0,690.30 L708.0,690.30 L709.0,690.30 L710.0,690.30 L711.0,690.32 L712.0,690.37 L713.0,690.50 L714.0,690.71 L715.0,690.97 L716.0,691.25 L717.0,691.54 L718.0,691.82 L719.0,692.11 L720.0,692.40 L721.0,692.69 L722.0,693.00 L723.0,693.33 L724.0,693.68 L725.0,694.04 L726.0,694.40 L727.0,694.75 L728.0,695.11 L729.0,695.47 L730.0,695.83 L731.0,696.21 L732.0,696.61 L733.0,697.02 L734.0,697.45 L735.0,697.86 L736.0,698.26 L737.0,698.64 L738.0,699.01 L739.0,699.38 L740.0,699.75 L741.0,700.11 L742.0,700.48 L743.0,700.84 L744.0,701.20 L745.0,701.57 L746.0,701.93 L747.0,702.28 L748.0,702.63 L749.0,702.91 L750.0,703.09 L751.0,703.14 L752.0,703.10 L753.0,703.02 L754.0,702.94 L755.0,702.85 L756.0,702.78 L757.0,702.76 L758.0,702.85 L759.0,703.08 L760.0,703.41 L761.0,703.78 L762.0,704.16 L763.0,704.54 L764.0,704.92 L765.0,705.29 L766.0,705.67 L767.0,706.03 L768.0,706.32 L769.0,706.49 L770.0,706.54 L771.0,706.49 L772.0,706.41 L773.0,706.33 L774.0,706.25 L775.0,706.18 L776.0,706.17 L777.0,706.26 L778.0,706.49 L779.0,706.81 L780.0,707.16 L781.0,707.52 L782.0,707.88 L783.0,708.24 L784.0,708.60 L785.0,708.95 L786.0,709.28 L787.0,709.57 L788.0,709.84 L789.0,710.09 L790.0,710.34 L791.0,710.59 L792.0,710.83 L793.0,711.09 L794.0,711.35 L795.0,711.63 L796.0,711.93 L797.0,712.23 L798.0,712.54 L799.0,712.85 L800.0,713.16 L801.0,713.47 L802.0,713.77 L803.0,714.08 L804.0,714.36 L805.0,714.59 L806.0,714.75 L807.0,714.87 L808.0,714.96 L809.0,715.05 L810.0,715.13 L811.0,715.23 L812.0,715.37 L813.0,715.62 L814.0,716.01 L815.0,716.52 L816.0,717.09 L817.0,717.66 L818.0,718.24 L819.0,718.82 L820.0,719.39 L821.0,719.95 L822.0,720.49 L823.0,721.01 L824.0,721.52 L825.0,722.02 L826.0,722.53 L827.0,723.03 L828.0,723.49 L829.0,723.88 L830.0,724.14 L831.0,724.30 L832.0,724.40 L833.0,724.47 L834.0,724.55 L835.0,724.63 L836.0,724.74 L837.0,724.93 L838.0,725.23 L839.0,725.65 L840.0,726.14 L841.0,726.65 L842.0,727.16 L843.0,727.67 L844.0,728.19 L845.0,728.74 L846.0,729.31 L847.0,729.91 L848.0,730.51 L849.0,731.08 L850.0,731.57 L851.0,731.97 L852.0,732.31 L853.0,732.62 L854.0,732.91 L855.0,733.17 L856.0,733.36 L857.0,733.48 L858.0,733.57 L859.0,733.65 L860.0,733.72 L861.0,733.81 L862.0,733.94 L863.0,734.13 L864.0,734.41 L865.0,734.73 L866.0,735.07 L867.0,735.41 L868.0,735.74 L869.0,736.07 L870.0,736.36 L871.0,736.63 L872.0,736.88 L873.0,737.13 L874.0,737.37 L875.0,737.62 L876.0,737.86 L877.0,738.10 L878.0,738.33 L879.0,738.55 L880.0,738.77 L881.0,738.99 L882.0,739.20 L883.0,739.42 L884.0,739.65 L885.0,739.91 L886.0,740.20 L887.0,740.52 L888.0,740.84 L889.0,741.16 L890.0,741.48 L891.0,741.77 L892.0,742.01 L893.0,742.17 L894.0,742.30 L895.0,742.40 L896.0,742.49 L897.0,742.59 L898.0,742.68 L899.0,742.78 L900.0,742.87 L901.0,742.94 L902.0,743.00 L903.0,743.03 L904.0,743.06 L905.0,743.08 L906.0,743.10 L907.0,743.12 L908.0,743.14 L909.0,743.16 L910.0,743.19 L911.0,743.21 L912.0,743.23 L913.0,743.25 L914.0,743.27 L915.0,743.29 L916.0,743.29 L917.0,743.30 L918.0,743.30 L919.0,743.30 L920.0,743.30 L921.0,743.30 L922.0,743.30 L923.0,743.30 L924.0,743.30 L925.0,743.30 L926.0,743.30 L927.0,743.30 L928.0,743.30 L929.0,743.30 L930.0,743.30 L931.0,743.30 L932.0,743.30 L933.0,743.30 L934.0,743.30 L935.0,743.30 L936.0,743.30 L937.0,743.30 L938.0,743.30 L939.0,743.30 L940.0,743.30 L941.0,743.30 L942.0,743.30 L943.0,743.30 L944.0,743.30 L945.0,743.30 L946.0,743.30 L947.0,743.30 L948.0,743.30 L949.0,743.30 L950.0,743.30 L951.0,743.30 L952.0,743.30 L953.0,743.30 L954.0,743.30 L955.0,743.30 L956.0,743.30 L957.0,743.30 L958.0,743.30 L959.0,743.30 L960.0,743.30 L961.0,743.30 L962.0,743.30 L963.0,743.30 L964.0,743.30 L965.0,743.30 L966.0,743.30 L967.0,743.30 L968.0,743.30 L969.0,743.30 L970.0,743.30 L971.0,743.30 L972.0,743.30 L973.0,743.30 L974.0,743.30 L975.0,743.30 L976.0,743.30 L977.0,743.30 L978.0,743.30 L979.0,743.30 L980.0,743.30 L981.0,743.30 L982.0,743.30 L983.0,743.30 L984.0,743.30 L985.0,743.30 L986.0,743.30 L987.0,743.30 L988.0,743.30 L989.0,743.30 L990.0,743.30 L991.0,743.30 L992.0,743.30 L993.0,743.30 L994.0,743.30 L995.0,743.30 L996.0,743.30 L997.0,743.30 L998.0,743.30 L999.0,743.30 L1000.0,743.30 L1001.0,743.30 L1002.0,743.30 L1003.0,743.30 L1004.0,743.30 L1005.0,743.30 L1006.0,743.30 L1007.0,743.30 L1008.0,743.30" fill="none" stroke="#1010c8" stroke-width="2.3" stroke-linejoin="round" stroke-linecap="round" />
<path d="M543.0,743.50 L544.0,743.50 L545.0,743.50 L546.0,743.50 L547.0,743.50 L548.0,743.50 L549.0,743.50 L550.0,743.50 L551.0,743.50 L552.0,743.50 L553.0,743.50 L554.0,743.50 L555.0,743.50 L556.0,743.50 L557.0,743.50 L558.0,743.50 L559.0,743.50 L560.0,743.50 L561.0,743.50 L562.0,743.49 L563.0,743.46 L564.0,743.38 L565.0,743.22 L566.0,742.99 L567.0,742.66 L568.0,742.12 L569.0,741.25 L570.0,740.04 L571.0,738.62 L572.0,737.10 L573.0,735.42 L574.0,733.43 L575.0,731.06 L576.0,728.40 L577.0,725.61 L578.0,722.68 L579.0,719.46 L580.0,715.83 L581.0,711.85 L582.0,707.69 L583.0,703.41 L584.0,698.97 L585.0,694.33 L586.0,689.54 L587.0,684.69 L588.0,679.85 L589.0,675.04 L590.0,670.29 L591.0,665.62 L592.0,661.13 L593.0,656.97 L594.0,653.19 L595.0,649.70 L596.0,646.43 L597.0,643.51 L598.0,641.10 L599.0,639.30 L600.0,637.94 L601.0,636.79 L602.0,635.70 L603.0,634.63 L604.0,633.59 L605.0,632.65 L606.0,631.97 L607.0,631.76 L608.0,632.00 L609.0,632.51 L610.0,633.12 L611.0,633.74 L612.0,634.34 L613.0,634.90 L614.0,635.42 L615.0,635.91 L616.0,636.40 L617.0,636.87 L618.0,637.30 L619.0,637.60 L620.0,637.72 L621.0,637.68 L622.0,637.55 L623.0,637.40 L624.0,637.24 L625.0,637.09 L626.0,636.98 L627.0,636.99 L628.0,637.18 L629.0,637.52 L630.0,637.94 L631.0,638.40 L632.0,638.86 L633.0,639.36 L634.0,639.95 L635.0,640.68 L636.0,641.57 L637.0,642.54 L638.0,643.54 L639.0,644.56 L640.0,645.56 L641.0,646.53 L642.0,647.41 L643.0,648.12 L644.0,648.68 L645.0,649.14 L646.0,649.57 L647.0,649.99 L648.0,650.42 L649.0,650.84 L650.0,651.26 L651.0,651.67 L652.0,652.06 L653.0,652.43 L654.0,652.77 L655.0,653.11 L656.0,653.45 L657.0,653.79 L658.0,654.13 L659.0,654.50 L660.0,654.92 L661.0,655.42 L662.0,655.97 L663.0,656.54 L664.0,657.12 L665.0,657.70 L666.0,658.27 L667.0,658.81 L668.0,659.26 L669.0,659.58 L670.0,659.81 L671.0,660.00 L672.0,660.18 L673.0,660.36 L674.0,660.59 L675.0,660.90 L676.0,661.34 L677.0,661.87 L678.0,662.44 L679.0,663.02 L680.0,663.60 L681.0,664.18 L682.0,664.77 L683.0,665.36 L684.0,665.96 L685.0,666.56 L686.0,667.17 L687.0,667.79 L688.0,668.39 L689.0,668.98 L690.0,669.55 L691.0,670.08 L692.0,670.58 L693.0,671.07 L694.0,671.56 L695.0,672.01 L696.0,672.35 L697.0,672.53 L698.0,672.54 L699.0,672.45 L700.0,672.32 L701.0,672.18 L702.0,672.05 L703.0,671.91 L704.0,671.79 L705.0,671.71 L706.0,671.73 L707.0,671.90 L708.0,672.18 L709.0,672.50 L710.0,672.83 L711.0,673.17 L712.0,673.50 L713.0,673.84 L714.0,674.20 L715.0,674.59 L716.0,674.99 L717.0,675.40 L718.0,675.81 L719.0,676.22 L720.0,676.63 L721.0,677.01 L722.0,677.34 L723.0,677.58 L724.0,677.77 L725.0,677.93 L726.0,678.07 L727.0,678.22 L728.0,678.37 L729.0,678.52 L730.0,678.68 L731.0,678.87 L732.0,679.11 L733.0,679.41 L734.0,679.75 L735.0,680.09 L736.0,680.42 L737.0,680.75 L738.0,681.10 L739.0,681.48 L740.0,681.92 L741.0,682.44 L742.0,683.00 L743.0,683.54 L744.0,684.00 L745.0,684.33 L746.0,684.54 L747.0,684.67 L748.0,684.80 L749.0,684.96 L750.0,685.16 L751.0,685.40 L752.0,685.66 L753.0,685.92 L754.0,686.17 L755.0,686.40 L756.0,686.60 L757.0,686.80 L758.0,687.04 L759.0,687.37 L760.0,687.79 L761.0,688.27 L762.0,688.77 L763.0,689.28 L764.0,689.78 L765.0,690.25 L766.0,690.64 L767.0,690.93 L768.0,691.15 L769.0,691.34 L770.0,691.52 L771.0,691.70 L772.0,691.89 L773.0,692.07 L774.0,692.25 L775.0,692.44 L776.0,692.63 L777.0,692.84 L778.0,693.04 L779.0,693.25 L780.0,693.47 L781.0,693.72 L782.0,694.04 L783.0,694.48 L784.0,694.99 L785.0,695.55 L786.0,696.12 L787.0,696.69 L788.0,697.25 L789.0,697.82 L790.0,698.40 L791.0,699.00 L792.0,699.64 L793.0,700.31 L794.0,701.01 L795.0,701.72 L796.0,702.44 L797.0,703.15 L798.0,703.86 L799.0,704.56 L800.0,705.24 L801.0,705.83 L802.0,706.31 L803.0,706.71 L804.0,707.08 L805.0,707.45 L806.0,707.81 L807.0,708.17 L808.0,708.53 L809.0,708.88 L810.0,709.22 L811.0,709.52 L812.0,709.79 L813.0,710.05 L814.0,710.30 L815.0,710.55 L816.0,710.80 L817.0,711.05 L818.0,711.30 L819.0,711.55 L820.0,711.81 L821.0,712.10 L822.0,712.42 L823.0,712.77 L824.0,713.14 L825.0,713.51 L826.0,713.88 L827.0,714.25 L828.0,714.62 L829.0,714.99 L830.0,715.36 L831.0,715.74 L832.0,716.13 L833.0,716.55 L834.0,716.98 L835.0,717.42 L836.0,717.86 L837.0,718.30 L838.0,718.74 L839.0,719.17 L840.0,719.61 L841.0,720.04 L842.0,720.46 L843.0,720.84 L844.0,721.20 L845.0,721.57 L846.0,721.97 L847.0,722.40 L848.0,722.84 L849.0,723.29 L850.0,723.73 L851.0,724.18 L852.0,724.63 L853.0,725.07 L854.0,725.50 L855.0,725.91 L856.0,726.31 L857.0,726.69 L858.0,727.08 L859.0,727.46 L860.0,727.84 L861.0,728.23 L862.0,728.61 L863.0,728.98 L864.0,729.35 L865.0,729.69 L866.0,730.03 L867.0,730.37 L868.0,730.70 L869.0,731.03 L870.0,731.37 L871.0,731.70 L872.0,732.03 L873.0,732.37 L874.0,732.72 L875.0,733.09 L876.0,733.47 L877.0,733.85 L878.0,734.24 L879.0,734.64 L880.0,735.03 L881.0,735.42 L882.0,735.81 L883.0,736.19 L884.0,736.56 L885.0,736.89 L886.0,737.18 L887.0,737.44 L888.0,737.69 L889.0,737.93 L890.0,738.18 L891.0,738.42 L892.0,738.67 L893.0,738.92 L894.0,739.16 L895.0,739.40 L896.0,739.62 L897.0,739.81 L898.0,739.97 L899.0,740.11 L900.0,740.24 L901.0,740.37 L902.0,740.49 L903.0,740.62 L904.0,740.75 L905.0,740.88 L906.0,741.01 L907.0,741.14 L908.0,741.26 L909.0,741.39 L910.0,741.50 L911.0,741.60 L912.0,741.67 L913.0,741.73 L914.0,741.79 L915.0,741.84 L916.0,741.90 L917.0,741.95 L918.0,742.01 L919.0,742.06 L920.0,742.12 L921.0,742.17 L922.0,742.23 L923.0,742.28 L924.0,742.34 L925.0,742.39 L926.0,742.44 L927.0,742.48 L928.0,742.52 L929.0,742.54 L930.0,742.56 L931.0,742.58 L932.0,742.61 L933.0,742.63 L934.0,742.65 L935.0,742.67 L936.0,742.69 L937.0,742.71 L938.0,742.73 L939.0,742.75 L940.0,742.77 L941.0,742.79 L942.0,742.82 L943.0,742.84 L944.0,742.86 L945.0,742.88 L946.0,742.90 L947.0,742.92 L948.0,742.94 L949.0,742.96 L950.0,742.98 L951.0,743.01 L952.0,743.03 L953.0,743.05 L954.0,743.07 L955.0,743.09 L956.0,743.11 L957.0,743.13 L958.0,743.15 L959.0,743.17 L960.0,743.19 L961.0,743.22 L962.0,743.24 L963.0,743.26 L964.0,743.28 L965.0,743.29 L966.0,743.30 L967.0,743.30 L968.0,743.30 L969.0,743.30 L970.0,743.30 L971.0,743.30 L972.0,743.30 L973.0,743.30 L974.0,743.30 L975.0,743.30 L976.0,743.30 L977.0,743.30 L978.0,743.30 L979.0,743.30 L980.0,743.30 L981.0,743.30 L982.0,743.30 L983.0,743.30 L984.0,743.30 L985.0,743.30 L986.0,743.30 L987.0,743.30 L988.0,743.30 L989.0,743.30 L990.0,743.30 L991.0,743.30 L992.0,743.30 L993.0,743.30 L994.0,743.30 L995.0,743.30 L996.0,743.30 L997.0,743.30 L998.0,743.30 L999.0,743.30 L1000.0,743.30 L1001.0,743.30 L1002.0,743.30 L1003.0,743.30 L1004.0,743.30 L1005.0,743.30 L1006.0,743.30 L1007.0,743.30 L1008.0,743.30" fill="none" stroke="#24e8ec" stroke-width="2.3" stroke-linejoin="round" stroke-linecap="round" />
</g>
</svg></body></html>
